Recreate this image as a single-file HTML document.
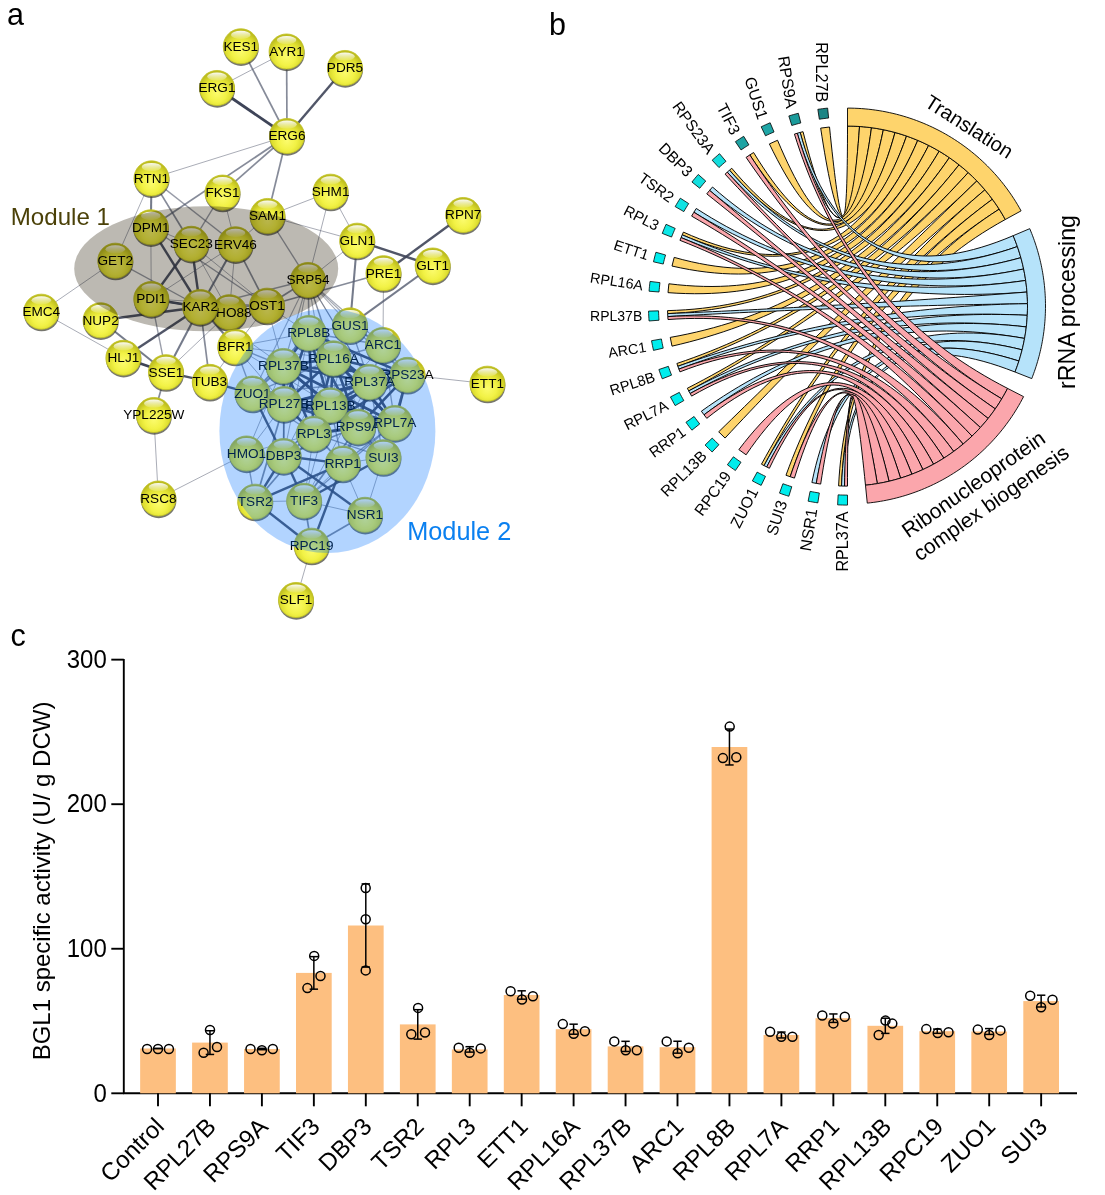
<!DOCTYPE html>
<html><head><meta charset="utf-8"><style>
html,body{margin:0;padding:0;background:#fff;}
body{width:1105px;height:1195px;overflow:hidden;}
svg{display:block;}
.f{font-family:"Liberation Sans",Arial,sans-serif;}
</style></head><body>
<svg width="1105" height="1195" viewBox="0 0 1105 1195" font-family="Liberation Sans, Arial, sans-serif">
<rect width="1105" height="1195" fill="#fff"/>
<text x="7" y="25.2" font-size="30.5" class="f">a</text>
<text x="549" y="34.8" font-size="30.5" class="f">b</text>
<text x="10.5" y="645.9" font-size="30.5" class="f">c</text>
<g id="pa">
<defs><radialGradient id="ball" cx="50%" cy="64%" r="58%"><stop offset="0" stop-color="#fbfb6c"/><stop offset="0.45" stop-color="#f2f246"/><stop offset="0.75" stop-color="#dcdc2e"/><stop offset="1" stop-color="#bcbc1e"/></radialGradient><linearGradient id="hl" x1="0" y1="0" x2="0" y2="1"><stop offset="0" stop-color="#fff" stop-opacity="0.95"/><stop offset="1" stop-color="#fff" stop-opacity="0.12"/></linearGradient></defs>
<line x1="240.8" y1="46.3" x2="287" y2="136" stroke="#535a6e" stroke-opacity="0.70" stroke-width="1.70"/>
<line x1="286.6" y1="51.5" x2="287" y2="136" stroke="#535a6e" stroke-opacity="0.70" stroke-width="1.70"/>
<line x1="345" y1="68" x2="287" y2="136" stroke="#3e4458" stroke-opacity="0.90" stroke-width="2.40"/>
<line x1="217" y1="88" x2="287" y2="136" stroke="#3e4458" stroke-opacity="1.00" stroke-width="2.75"/>
<line x1="217" y1="88" x2="286.6" y2="51.5" stroke="#535a6e" stroke-opacity="0.50" stroke-width="1.00"/>
<line x1="287" y1="136" x2="151.5" y2="178.4" stroke="#535a6e" stroke-opacity="0.50" stroke-width="1.00"/>
<line x1="287" y1="136" x2="222.5" y2="192.6" stroke="#535a6e" stroke-opacity="0.70" stroke-width="1.70"/>
<line x1="287" y1="136" x2="150.8" y2="227.3" stroke="#535a6e" stroke-opacity="0.70" stroke-width="1.70"/>
<line x1="287" y1="136" x2="267.5" y2="216" stroke="#535a6e" stroke-opacity="0.70" stroke-width="1.70"/>
<line x1="151.5" y1="178.4" x2="150.8" y2="227.3" stroke="#535a6e" stroke-opacity="0.80" stroke-width="2.05"/>
<line x1="151.5" y1="178.4" x2="191.3" y2="243.8" stroke="#535a6e" stroke-opacity="0.70" stroke-width="1.70"/>
<line x1="151.5" y1="178.4" x2="115.3" y2="260.7" stroke="#535a6e" stroke-opacity="0.50" stroke-width="1.00"/>
<line x1="151.5" y1="178.4" x2="235.5" y2="244.3" stroke="#535a6e" stroke-opacity="0.60" stroke-width="1.35"/>
<line x1="222.5" y1="192.6" x2="191.3" y2="243.8" stroke="#535a6e" stroke-opacity="0.60" stroke-width="1.35"/>
<line x1="222.5" y1="192.6" x2="235.5" y2="244.3" stroke="#535a6e" stroke-opacity="0.50" stroke-width="1.00"/>
<line x1="150.8" y1="227.3" x2="151.3" y2="299" stroke="#535a6e" stroke-opacity="0.50" stroke-width="1.00"/>
<line x1="150.8" y1="227.3" x2="200.2" y2="307" stroke="#3e4458" stroke-opacity="0.90" stroke-width="2.40"/>
<line x1="150.8" y1="227.3" x2="267" y2="305.7" stroke="#535a6e" stroke-opacity="0.60" stroke-width="1.35"/>
<line x1="150.8" y1="227.3" x2="191.3" y2="243.8" stroke="#535a6e" stroke-opacity="0.50" stroke-width="1.00"/>
<line x1="191.3" y1="243.8" x2="200.2" y2="307" stroke="#3e4458" stroke-opacity="0.90" stroke-width="2.40"/>
<line x1="191.3" y1="243.8" x2="151.3" y2="299" stroke="#3e4458" stroke-opacity="0.90" stroke-width="2.40"/>
<line x1="191.3" y1="243.8" x2="229.3" y2="312.2" stroke="#535a6e" stroke-opacity="0.50" stroke-width="1.00"/>
<line x1="191.3" y1="243.8" x2="267" y2="305.7" stroke="#535a6e" stroke-opacity="0.50" stroke-width="1.00"/>
<line x1="235.5" y1="244.3" x2="200.2" y2="307" stroke="#535a6e" stroke-opacity="0.80" stroke-width="2.05"/>
<line x1="235.5" y1="244.3" x2="267" y2="305.7" stroke="#535a6e" stroke-opacity="0.70" stroke-width="1.70"/>
<line x1="235.5" y1="244.3" x2="229.3" y2="312.2" stroke="#535a6e" stroke-opacity="0.50" stroke-width="1.00"/>
<line x1="235.5" y1="244.3" x2="151.3" y2="299" stroke="#535a6e" stroke-opacity="0.50" stroke-width="1.00"/>
<line x1="115.3" y1="260.7" x2="200.2" y2="307" stroke="#535a6e" stroke-opacity="0.60" stroke-width="1.35"/>
<line x1="115.3" y1="260.7" x2="41.3" y2="311.7" stroke="#535a6e" stroke-opacity="0.50" stroke-width="1.00"/>
<line x1="151.3" y1="299" x2="200.2" y2="307" stroke="#3e4458" stroke-opacity="1.00" stroke-width="2.75"/>
<line x1="151.3" y1="299" x2="166" y2="372.2" stroke="#535a6e" stroke-opacity="0.60" stroke-width="1.35"/>
<line x1="151.3" y1="299" x2="229.3" y2="312.2" stroke="#535a6e" stroke-opacity="0.70" stroke-width="1.70"/>
<line x1="151.3" y1="299" x2="267" y2="305.7" stroke="#535a6e" stroke-opacity="0.50" stroke-width="1.00"/>
<line x1="200.2" y1="307" x2="229.3" y2="312.2" stroke="#535a6e" stroke-opacity="0.80" stroke-width="2.05"/>
<line x1="200.2" y1="307" x2="267" y2="305.7" stroke="#535a6e" stroke-opacity="0.70" stroke-width="1.70"/>
<line x1="200.2" y1="307" x2="308" y2="280" stroke="#535a6e" stroke-opacity="0.60" stroke-width="1.35"/>
<line x1="200.2" y1="307" x2="123.4" y2="357.8" stroke="#3e4458" stroke-opacity="0.90" stroke-width="2.40"/>
<line x1="200.2" y1="307" x2="166" y2="372.2" stroke="#535a6e" stroke-opacity="0.80" stroke-width="2.05"/>
<line x1="200.2" y1="307" x2="209.8" y2="381.9" stroke="#535a6e" stroke-opacity="0.70" stroke-width="1.70"/>
<line x1="200.2" y1="307" x2="235.2" y2="346.7" stroke="#535a6e" stroke-opacity="0.80" stroke-width="2.05"/>
<line x1="100.6" y1="320.3" x2="200.2" y2="307" stroke="#3e4458" stroke-opacity="0.90" stroke-width="2.40"/>
<line x1="267.5" y1="216" x2="330.6" y2="191.7" stroke="#535a6e" stroke-opacity="0.50" stroke-width="1.00"/>
<line x1="267.5" y1="216" x2="308" y2="280" stroke="#535a6e" stroke-opacity="0.60" stroke-width="1.35"/>
<line x1="267.5" y1="216" x2="357.2" y2="240.7" stroke="#535a6e" stroke-opacity="0.50" stroke-width="1.00"/>
<line x1="267.5" y1="216" x2="235.5" y2="244.3" stroke="#535a6e" stroke-opacity="0.50" stroke-width="1.00"/>
<line x1="330.6" y1="191.7" x2="357.2" y2="240.7" stroke="#535a6e" stroke-opacity="0.50" stroke-width="1.00"/>
<line x1="330.6" y1="191.7" x2="308" y2="280" stroke="#535a6e" stroke-opacity="0.50" stroke-width="1.00"/>
<line x1="357.2" y1="240.7" x2="432.7" y2="265.5" stroke="#3e4458" stroke-opacity="0.90" stroke-width="2.40"/>
<line x1="357.2" y1="240.7" x2="308" y2="280" stroke="#535a6e" stroke-opacity="0.50" stroke-width="1.00"/>
<line x1="357.2" y1="240.7" x2="350" y2="325.4" stroke="#535a6e" stroke-opacity="0.80" stroke-width="2.05"/>
<line x1="463.2" y1="215" x2="383.5" y2="273.2" stroke="#3e4458" stroke-opacity="0.90" stroke-width="2.40"/>
<line x1="432.7" y1="265.5" x2="350" y2="325.4" stroke="#535a6e" stroke-opacity="0.80" stroke-width="2.05"/>
<line x1="383.5" y1="273.2" x2="383" y2="345" stroke="#535a6e" stroke-opacity="0.50" stroke-width="1.00"/>
<line x1="308" y1="280" x2="267" y2="305.7" stroke="#535a6e" stroke-opacity="0.70" stroke-width="1.70"/>
<line x1="267" y1="305.7" x2="229.3" y2="312.2" stroke="#535a6e" stroke-opacity="0.70" stroke-width="1.70"/>
<line x1="41.3" y1="311.7" x2="123.4" y2="357.8" stroke="#535a6e" stroke-opacity="0.50" stroke-width="1.00"/>
<line x1="100.6" y1="320.3" x2="166" y2="372.2" stroke="#535a6e" stroke-opacity="0.80" stroke-width="2.05"/>
<line x1="166" y1="372.2" x2="229.3" y2="312.2" stroke="#535a6e" stroke-opacity="0.50" stroke-width="1.00"/>
<line x1="235.2" y1="346.7" x2="209.8" y2="381.9" stroke="#535a6e" stroke-opacity="0.50" stroke-width="1.00"/>
<line x1="123.4" y1="357.8" x2="166" y2="372.2" stroke="#3e4458" stroke-opacity="1.00" stroke-width="2.75"/>
<line x1="166" y1="372.2" x2="209.8" y2="381.9" stroke="#3e4458" stroke-opacity="0.90" stroke-width="2.40"/>
<line x1="166" y1="372.2" x2="153.8" y2="415" stroke="#535a6e" stroke-opacity="0.70" stroke-width="1.70"/>
<line x1="209.8" y1="381.9" x2="252.5" y2="393.6" stroke="#3e4458" stroke-opacity="0.90" stroke-width="2.40"/>
<line x1="235.2" y1="346.7" x2="267" y2="305.7" stroke="#535a6e" stroke-opacity="0.50" stroke-width="1.00"/>
<line x1="153.8" y1="415" x2="158.4" y2="498.5" stroke="#535a6e" stroke-opacity="0.50" stroke-width="1.00"/>
<line x1="158.4" y1="498.5" x2="246.5" y2="453.5" stroke="#535a6e" stroke-opacity="0.50" stroke-width="1.00"/>
<line x1="311.6" y1="545.7" x2="296" y2="600" stroke="#535a6e" stroke-opacity="0.50" stroke-width="1.00"/>
<line x1="407.5" y1="374.9" x2="487.4" y2="383.7" stroke="#535a6e" stroke-opacity="0.50" stroke-width="1.00"/>
<line x1="308" y1="280" x2="308.7" y2="333" stroke="#535a6e" stroke-opacity="0.52" stroke-width="1.07"/>
<line x1="308" y1="280" x2="333.5" y2="358.4" stroke="#535a6e" stroke-opacity="0.52" stroke-width="1.07"/>
<line x1="308" y1="280" x2="283.4" y2="366" stroke="#535a6e" stroke-opacity="0.52" stroke-width="1.07"/>
<line x1="308" y1="280" x2="369.5" y2="382" stroke="#535a6e" stroke-opacity="0.52" stroke-width="1.07"/>
<line x1="308" y1="280" x2="350" y2="325.4" stroke="#535a6e" stroke-opacity="0.52" stroke-width="1.07"/>
<line x1="308" y1="280" x2="383" y2="345" stroke="#535a6e" stroke-opacity="0.52" stroke-width="1.07"/>
<line x1="308" y1="280" x2="407.5" y2="374.9" stroke="#535a6e" stroke-opacity="0.52" stroke-width="1.07"/>
<line x1="308" y1="280" x2="284.1" y2="404" stroke="#535a6e" stroke-opacity="0.52" stroke-width="1.07"/>
<line x1="308" y1="280" x2="330.2" y2="405.3" stroke="#535a6e" stroke-opacity="0.52" stroke-width="1.07"/>
<line x1="308" y1="280" x2="252.5" y2="393.6" stroke="#535a6e" stroke-opacity="0.52" stroke-width="1.07"/>
<line x1="308" y1="280" x2="313.8" y2="433.7" stroke="#535a6e" stroke-opacity="0.52" stroke-width="1.07"/>
<line x1="308" y1="280" x2="358.1" y2="426.8" stroke="#535a6e" stroke-opacity="0.52" stroke-width="1.07"/>
<line x1="308" y1="280" x2="394.9" y2="423" stroke="#535a6e" stroke-opacity="0.52" stroke-width="1.07"/>
<line x1="235.2" y1="346.7" x2="283.4" y2="366" stroke="#535a6e" stroke-opacity="0.60" stroke-width="1.35"/>
<line x1="235.2" y1="346.7" x2="252.5" y2="393.6" stroke="#535a6e" stroke-opacity="0.60" stroke-width="1.35"/>
<line x1="235.2" y1="346.7" x2="308.7" y2="333" stroke="#535a6e" stroke-opacity="0.50" stroke-width="1.00"/>
<line x1="235.2" y1="346.7" x2="284.1" y2="404" stroke="#535a6e" stroke-opacity="0.50" stroke-width="1.00"/>
<line x1="267" y1="305.7" x2="308.7" y2="333" stroke="#535a6e" stroke-opacity="0.50" stroke-width="1.00"/>
<line x1="267" y1="305.7" x2="283.4" y2="366" stroke="#535a6e" stroke-opacity="0.50" stroke-width="1.00"/>
<line x1="200.2" y1="307" x2="283.4" y2="366" stroke="#535a6e" stroke-opacity="0.50" stroke-width="1.00"/>
<line x1="308.7" y1="333" x2="333.5" y2="358.4" stroke="#3e4458" stroke-opacity="0.96" stroke-width="2.61"/>
<line x1="308.7" y1="333" x2="283.4" y2="366" stroke="#3e4458" stroke-opacity="0.96" stroke-width="2.61"/>
<line x1="308.7" y1="333" x2="369.5" y2="382" stroke="#3e4458" stroke-opacity="0.96" stroke-width="2.61"/>
<line x1="308.7" y1="333" x2="284.1" y2="404" stroke="#3e4458" stroke-opacity="0.96" stroke-width="2.61"/>
<line x1="308.7" y1="333" x2="330.2" y2="405.3" stroke="#3e4458" stroke-opacity="0.96" stroke-width="2.61"/>
<line x1="308.7" y1="333" x2="358.1" y2="426.8" stroke="#3e4458" stroke-opacity="0.96" stroke-width="2.61"/>
<line x1="308.7" y1="333" x2="313.8" y2="433.7" stroke="#3e4458" stroke-opacity="0.96" stroke-width="2.61"/>
<line x1="308.7" y1="333" x2="394.9" y2="423" stroke="#3e4458" stroke-opacity="0.96" stroke-width="2.61"/>
<line x1="308.7" y1="333" x2="407.5" y2="374.9" stroke="#3e4458" stroke-opacity="0.96" stroke-width="2.61"/>
<line x1="333.5" y1="358.4" x2="283.4" y2="366" stroke="#3e4458" stroke-opacity="0.96" stroke-width="2.61"/>
<line x1="333.5" y1="358.4" x2="369.5" y2="382" stroke="#3e4458" stroke-opacity="0.96" stroke-width="2.61"/>
<line x1="333.5" y1="358.4" x2="284.1" y2="404" stroke="#3e4458" stroke-opacity="0.96" stroke-width="2.61"/>
<line x1="333.5" y1="358.4" x2="330.2" y2="405.3" stroke="#3e4458" stroke-opacity="0.96" stroke-width="2.61"/>
<line x1="333.5" y1="358.4" x2="358.1" y2="426.8" stroke="#3e4458" stroke-opacity="0.96" stroke-width="2.61"/>
<line x1="333.5" y1="358.4" x2="313.8" y2="433.7" stroke="#3e4458" stroke-opacity="0.96" stroke-width="2.61"/>
<line x1="333.5" y1="358.4" x2="394.9" y2="423" stroke="#3e4458" stroke-opacity="0.96" stroke-width="2.61"/>
<line x1="333.5" y1="358.4" x2="407.5" y2="374.9" stroke="#3e4458" stroke-opacity="0.96" stroke-width="2.61"/>
<line x1="283.4" y1="366" x2="369.5" y2="382" stroke="#3e4458" stroke-opacity="0.96" stroke-width="2.61"/>
<line x1="283.4" y1="366" x2="284.1" y2="404" stroke="#3e4458" stroke-opacity="0.96" stroke-width="2.61"/>
<line x1="283.4" y1="366" x2="330.2" y2="405.3" stroke="#3e4458" stroke-opacity="0.96" stroke-width="2.61"/>
<line x1="283.4" y1="366" x2="358.1" y2="426.8" stroke="#3e4458" stroke-opacity="0.96" stroke-width="2.61"/>
<line x1="283.4" y1="366" x2="313.8" y2="433.7" stroke="#3e4458" stroke-opacity="0.96" stroke-width="2.61"/>
<line x1="283.4" y1="366" x2="394.9" y2="423" stroke="#3e4458" stroke-opacity="0.96" stroke-width="2.61"/>
<line x1="283.4" y1="366" x2="407.5" y2="374.9" stroke="#3e4458" stroke-opacity="0.96" stroke-width="2.61"/>
<line x1="369.5" y1="382" x2="284.1" y2="404" stroke="#3e4458" stroke-opacity="0.96" stroke-width="2.61"/>
<line x1="369.5" y1="382" x2="330.2" y2="405.3" stroke="#3e4458" stroke-opacity="0.96" stroke-width="2.61"/>
<line x1="369.5" y1="382" x2="358.1" y2="426.8" stroke="#3e4458" stroke-opacity="0.96" stroke-width="2.61"/>
<line x1="369.5" y1="382" x2="313.8" y2="433.7" stroke="#3e4458" stroke-opacity="0.96" stroke-width="2.61"/>
<line x1="369.5" y1="382" x2="394.9" y2="423" stroke="#3e4458" stroke-opacity="0.96" stroke-width="2.61"/>
<line x1="369.5" y1="382" x2="407.5" y2="374.9" stroke="#3e4458" stroke-opacity="0.96" stroke-width="2.61"/>
<line x1="284.1" y1="404" x2="330.2" y2="405.3" stroke="#3e4458" stroke-opacity="0.96" stroke-width="2.61"/>
<line x1="284.1" y1="404" x2="358.1" y2="426.8" stroke="#3e4458" stroke-opacity="0.96" stroke-width="2.61"/>
<line x1="284.1" y1="404" x2="313.8" y2="433.7" stroke="#3e4458" stroke-opacity="0.96" stroke-width="2.61"/>
<line x1="284.1" y1="404" x2="394.9" y2="423" stroke="#3e4458" stroke-opacity="0.96" stroke-width="2.61"/>
<line x1="284.1" y1="404" x2="407.5" y2="374.9" stroke="#3e4458" stroke-opacity="0.96" stroke-width="2.61"/>
<line x1="330.2" y1="405.3" x2="358.1" y2="426.8" stroke="#3e4458" stroke-opacity="0.96" stroke-width="2.61"/>
<line x1="330.2" y1="405.3" x2="313.8" y2="433.7" stroke="#3e4458" stroke-opacity="0.96" stroke-width="2.61"/>
<line x1="330.2" y1="405.3" x2="394.9" y2="423" stroke="#3e4458" stroke-opacity="0.96" stroke-width="2.61"/>
<line x1="330.2" y1="405.3" x2="407.5" y2="374.9" stroke="#3e4458" stroke-opacity="0.96" stroke-width="2.61"/>
<line x1="358.1" y1="426.8" x2="313.8" y2="433.7" stroke="#3e4458" stroke-opacity="0.96" stroke-width="2.61"/>
<line x1="358.1" y1="426.8" x2="394.9" y2="423" stroke="#3e4458" stroke-opacity="0.96" stroke-width="2.61"/>
<line x1="358.1" y1="426.8" x2="407.5" y2="374.9" stroke="#3e4458" stroke-opacity="0.96" stroke-width="2.61"/>
<line x1="313.8" y1="433.7" x2="394.9" y2="423" stroke="#3e4458" stroke-opacity="0.96" stroke-width="2.61"/>
<line x1="313.8" y1="433.7" x2="407.5" y2="374.9" stroke="#3e4458" stroke-opacity="0.96" stroke-width="2.61"/>
<line x1="394.9" y1="423" x2="407.5" y2="374.9" stroke="#3e4458" stroke-opacity="0.96" stroke-width="2.61"/>
<line x1="255.2" y1="501.7" x2="283.6" y2="456" stroke="#3e4458" stroke-opacity="0.90" stroke-width="2.40"/>
<line x1="255.2" y1="501.7" x2="284.1" y2="404" stroke="#535a6e" stroke-opacity="0.70" stroke-width="1.70"/>
<line x1="255.2" y1="501.7" x2="313.8" y2="433.7" stroke="#535a6e" stroke-opacity="0.70" stroke-width="1.70"/>
<line x1="255.2" y1="501.7" x2="342.8" y2="463.6" stroke="#3e4458" stroke-opacity="0.90" stroke-width="2.40"/>
<line x1="255.2" y1="501.7" x2="304.1" y2="500.8" stroke="#535a6e" stroke-opacity="0.50" stroke-width="1.00"/>
<line x1="255.2" y1="501.7" x2="311.6" y2="545.7" stroke="#3e4458" stroke-opacity="0.90" stroke-width="2.40"/>
<line x1="255.2" y1="501.7" x2="246.5" y2="453.5" stroke="#535a6e" stroke-opacity="0.60" stroke-width="1.35"/>
<line x1="304.1" y1="500.8" x2="283.6" y2="456" stroke="#3e4458" stroke-opacity="0.90" stroke-width="2.40"/>
<line x1="304.1" y1="500.8" x2="313.8" y2="433.7" stroke="#535a6e" stroke-opacity="0.50" stroke-width="1.00"/>
<line x1="304.1" y1="500.8" x2="311.6" y2="545.7" stroke="#535a6e" stroke-opacity="0.70" stroke-width="1.70"/>
<line x1="304.1" y1="500.8" x2="365" y2="514.8" stroke="#535a6e" stroke-opacity="0.50" stroke-width="1.00"/>
<line x1="304.1" y1="500.8" x2="383.4" y2="457.2" stroke="#3e4458" stroke-opacity="0.90" stroke-width="2.40"/>
<line x1="304.1" y1="500.8" x2="342.8" y2="463.6" stroke="#535a6e" stroke-opacity="0.50" stroke-width="1.00"/>
<line x1="304.1" y1="500.8" x2="358.1" y2="426.8" stroke="#535a6e" stroke-opacity="0.70" stroke-width="1.70"/>
<line x1="304.1" y1="500.8" x2="330.2" y2="405.3" stroke="#535a6e" stroke-opacity="0.50" stroke-width="1.00"/>
<line x1="283.6" y1="456" x2="365" y2="514.8" stroke="#3e4458" stroke-opacity="0.90" stroke-width="2.40"/>
<line x1="283.6" y1="456" x2="342.8" y2="463.6" stroke="#3e4458" stroke-opacity="0.90" stroke-width="2.40"/>
<line x1="283.6" y1="456" x2="313.8" y2="433.7" stroke="#535a6e" stroke-opacity="0.70" stroke-width="1.70"/>
<line x1="283.6" y1="456" x2="284.1" y2="404" stroke="#535a6e" stroke-opacity="0.70" stroke-width="1.70"/>
<line x1="283.6" y1="456" x2="330.2" y2="405.3" stroke="#535a6e" stroke-opacity="0.70" stroke-width="1.70"/>
<line x1="283.6" y1="456" x2="358.1" y2="426.8" stroke="#535a6e" stroke-opacity="0.70" stroke-width="1.70"/>
<line x1="283.6" y1="456" x2="252.5" y2="393.6" stroke="#3e4458" stroke-opacity="0.90" stroke-width="2.40"/>
<line x1="283.6" y1="456" x2="283.4" y2="366" stroke="#535a6e" stroke-opacity="0.60" stroke-width="1.35"/>
<line x1="283.6" y1="456" x2="308.7" y2="333" stroke="#535a6e" stroke-opacity="0.50" stroke-width="1.00"/>
<line x1="283.6" y1="456" x2="333.5" y2="358.4" stroke="#535a6e" stroke-opacity="0.50" stroke-width="1.00"/>
<line x1="365" y1="514.8" x2="342.8" y2="463.6" stroke="#535a6e" stroke-opacity="0.50" stroke-width="1.00"/>
<line x1="365" y1="514.8" x2="383.4" y2="457.2" stroke="#535a6e" stroke-opacity="0.50" stroke-width="1.00"/>
<line x1="365" y1="514.8" x2="311.6" y2="545.7" stroke="#535a6e" stroke-opacity="0.70" stroke-width="1.70"/>
<line x1="342.8" y1="463.6" x2="311.6" y2="545.7" stroke="#3e4458" stroke-opacity="0.90" stroke-width="2.40"/>
<line x1="342.8" y1="463.6" x2="313.8" y2="433.7" stroke="#535a6e" stroke-opacity="0.70" stroke-width="1.70"/>
<line x1="342.8" y1="463.6" x2="358.1" y2="426.8" stroke="#535a6e" stroke-opacity="0.70" stroke-width="1.70"/>
<line x1="342.8" y1="463.6" x2="330.2" y2="405.3" stroke="#535a6e" stroke-opacity="0.60" stroke-width="1.35"/>
<line x1="342.8" y1="463.6" x2="394.9" y2="423" stroke="#535a6e" stroke-opacity="0.60" stroke-width="1.35"/>
<line x1="342.8" y1="463.6" x2="369.5" y2="382" stroke="#535a6e" stroke-opacity="0.60" stroke-width="1.35"/>
<line x1="342.8" y1="463.6" x2="383.4" y2="457.2" stroke="#535a6e" stroke-opacity="0.50" stroke-width="1.00"/>
<line x1="383.4" y1="457.2" x2="358.1" y2="426.8" stroke="#535a6e" stroke-opacity="0.70" stroke-width="1.70"/>
<line x1="383.4" y1="457.2" x2="394.9" y2="423" stroke="#535a6e" stroke-opacity="0.70" stroke-width="1.70"/>
<line x1="383.4" y1="457.2" x2="313.8" y2="433.7" stroke="#535a6e" stroke-opacity="0.60" stroke-width="1.35"/>
<line x1="383.4" y1="457.2" x2="330.2" y2="405.3" stroke="#535a6e" stroke-opacity="0.60" stroke-width="1.35"/>
<line x1="383.4" y1="457.2" x2="407.5" y2="374.9" stroke="#535a6e" stroke-opacity="0.70" stroke-width="1.70"/>
<line x1="246.5" y1="453.5" x2="284.1" y2="404" stroke="#535a6e" stroke-opacity="0.50" stroke-width="1.00"/>
<line x1="246.5" y1="453.5" x2="313.8" y2="433.7" stroke="#535a6e" stroke-opacity="0.50" stroke-width="1.00"/>
<line x1="246.5" y1="453.5" x2="283.4" y2="366" stroke="#535a6e" stroke-opacity="0.50" stroke-width="1.00"/>
<line x1="252.5" y1="393.6" x2="283.4" y2="366" stroke="#535a6e" stroke-opacity="0.70" stroke-width="1.70"/>
<line x1="252.5" y1="393.6" x2="284.1" y2="404" stroke="#535a6e" stroke-opacity="0.70" stroke-width="1.70"/>
<line x1="252.5" y1="393.6" x2="308.7" y2="333" stroke="#535a6e" stroke-opacity="0.70" stroke-width="1.70"/>
<line x1="252.5" y1="393.6" x2="333.5" y2="358.4" stroke="#535a6e" stroke-opacity="0.60" stroke-width="1.35"/>
<line x1="252.5" y1="393.6" x2="330.2" y2="405.3" stroke="#535a6e" stroke-opacity="0.60" stroke-width="1.35"/>
<line x1="252.5" y1="393.6" x2="313.8" y2="433.7" stroke="#535a6e" stroke-opacity="0.60" stroke-width="1.35"/>
<line x1="383" y1="345" x2="350" y2="325.4" stroke="#535a6e" stroke-opacity="0.70" stroke-width="1.70"/>
<line x1="383" y1="345" x2="333.5" y2="358.4" stroke="#535a6e" stroke-opacity="0.60" stroke-width="1.35"/>
<line x1="383" y1="345" x2="369.5" y2="382" stroke="#535a6e" stroke-opacity="0.60" stroke-width="1.35"/>
<line x1="383" y1="345" x2="407.5" y2="374.9" stroke="#535a6e" stroke-opacity="0.60" stroke-width="1.35"/>
<line x1="383" y1="345" x2="308.7" y2="333" stroke="#535a6e" stroke-opacity="0.60" stroke-width="1.35"/>
<line x1="383" y1="345" x2="394.9" y2="423" stroke="#535a6e" stroke-opacity="0.60" stroke-width="1.35"/>
<line x1="350" y1="325.4" x2="308.7" y2="333" stroke="#535a6e" stroke-opacity="0.60" stroke-width="1.35"/>
<line x1="350" y1="325.4" x2="333.5" y2="358.4" stroke="#535a6e" stroke-opacity="0.60" stroke-width="1.35"/>
<line x1="350" y1="325.4" x2="369.5" y2="382" stroke="#535a6e" stroke-opacity="0.60" stroke-width="1.35"/>
<line x1="350" y1="325.4" x2="407.5" y2="374.9" stroke="#535a6e" stroke-opacity="0.60" stroke-width="1.35"/>
<line x1="267" y1="305.7" x2="383.5" y2="273.2" stroke="#535a6e" stroke-opacity="0.70" stroke-width="1.70"/>
<line x1="252.5" y1="393.6" x2="369.5" y2="382" stroke="#535a6e" stroke-opacity="0.60" stroke-width="1.35"/>
<line x1="252.5" y1="393.6" x2="358.1" y2="426.8" stroke="#535a6e" stroke-opacity="0.60" stroke-width="1.35"/>
<line x1="252.5" y1="393.6" x2="394.9" y2="423" stroke="#535a6e" stroke-opacity="0.50" stroke-width="1.00"/>
<line x1="383.4" y1="457.2" x2="369.5" y2="382" stroke="#535a6e" stroke-opacity="0.60" stroke-width="1.35"/>
<line x1="383.4" y1="457.2" x2="333.5" y2="358.4" stroke="#535a6e" stroke-opacity="0.50" stroke-width="1.00"/>
<line x1="304.1" y1="500.8" x2="369.5" y2="382" stroke="#535a6e" stroke-opacity="0.50" stroke-width="1.00"/>
<line x1="304.1" y1="500.8" x2="394.9" y2="423" stroke="#535a6e" stroke-opacity="0.60" stroke-width="1.35"/>
<line x1="350" y1="325.4" x2="330.2" y2="405.3" stroke="#535a6e" stroke-opacity="0.50" stroke-width="1.00"/>
<line x1="383" y1="345" x2="330.2" y2="405.3" stroke="#535a6e" stroke-opacity="0.50" stroke-width="1.00"/>
<line x1="308.7" y1="333" x2="358.1" y2="426.8" stroke="#535a6e" stroke-opacity="0.70" stroke-width="1.70"/>
<line x1="235.2" y1="346.7" x2="333.5" y2="358.4" stroke="#535a6e" stroke-opacity="0.50" stroke-width="1.00"/>
<line x1="235.2" y1="346.7" x2="330.2" y2="405.3" stroke="#535a6e" stroke-opacity="0.50" stroke-width="1.00"/>
<circle cx="241.10000000000002" cy="48.199999999999996" r="17.75" fill="#3c3c30" opacity="0.7"/>
<circle cx="240.8" cy="46.3" r="17.55" fill="url(#ball)" stroke="#c2c224" stroke-width="0.8"/>
<ellipse cx="240.8" cy="34.9" rx="9.8" ry="4.1" fill="url(#hl)"/>
<text x="240.8" y="50.599999999999994" font-size="13.6" text-anchor="middle" class="f">KES1</text>
<circle cx="286.90000000000003" cy="53.4" r="17.75" fill="#3c3c30" opacity="0.7"/>
<circle cx="286.6" cy="51.5" r="17.55" fill="url(#ball)" stroke="#c2c224" stroke-width="0.8"/>
<ellipse cx="286.6" cy="40.1" rx="9.8" ry="4.1" fill="url(#hl)"/>
<text x="286.6" y="55.8" font-size="13.6" text-anchor="middle" class="f">AYR1</text>
<circle cx="345.3" cy="69.9" r="17.75" fill="#3c3c30" opacity="0.7"/>
<circle cx="345" cy="68" r="17.55" fill="url(#ball)" stroke="#c2c224" stroke-width="0.8"/>
<ellipse cx="345" cy="56.6" rx="9.8" ry="4.1" fill="url(#hl)"/>
<text x="345" y="72.3" font-size="13.6" text-anchor="middle" class="f">PDR5</text>
<circle cx="217.3" cy="89.9" r="17.75" fill="#3c3c30" opacity="0.7"/>
<circle cx="217" cy="88" r="17.55" fill="url(#ball)" stroke="#c2c224" stroke-width="0.8"/>
<ellipse cx="217" cy="76.6" rx="9.8" ry="4.1" fill="url(#hl)"/>
<text x="217" y="92.3" font-size="13.6" text-anchor="middle" class="f">ERG1</text>
<circle cx="287.3" cy="137.9" r="17.75" fill="#3c3c30" opacity="0.7"/>
<circle cx="287" cy="136" r="17.55" fill="url(#ball)" stroke="#c2c224" stroke-width="0.8"/>
<ellipse cx="287" cy="124.6" rx="9.8" ry="4.1" fill="url(#hl)"/>
<text x="287" y="140.3" font-size="13.6" text-anchor="middle" class="f">ERG6</text>
<circle cx="151.8" cy="180.3" r="17.75" fill="#3c3c30" opacity="0.7"/>
<circle cx="151.5" cy="178.4" r="17.55" fill="url(#ball)" stroke="#c2c224" stroke-width="0.8"/>
<ellipse cx="151.5" cy="167.0" rx="9.8" ry="4.1" fill="url(#hl)"/>
<text x="151.5" y="182.70000000000002" font-size="13.6" text-anchor="middle" class="f">RTN1</text>
<circle cx="222.8" cy="194.5" r="17.75" fill="#3c3c30" opacity="0.7"/>
<circle cx="222.5" cy="192.6" r="17.55" fill="url(#ball)" stroke="#c2c224" stroke-width="0.8"/>
<ellipse cx="222.5" cy="181.2" rx="9.8" ry="4.1" fill="url(#hl)"/>
<text x="222.5" y="196.9" font-size="13.6" text-anchor="middle" class="f">FKS1</text>
<circle cx="330.90000000000003" cy="193.6" r="17.75" fill="#3c3c30" opacity="0.7"/>
<circle cx="330.6" cy="191.7" r="17.55" fill="url(#ball)" stroke="#c2c224" stroke-width="0.8"/>
<ellipse cx="330.6" cy="180.29999999999998" rx="9.8" ry="4.1" fill="url(#hl)"/>
<text x="330.6" y="196.0" font-size="13.6" text-anchor="middle" class="f">SHM1</text>
<circle cx="267.8" cy="217.9" r="17.75" fill="#3c3c30" opacity="0.7"/>
<circle cx="267.5" cy="216" r="17.55" fill="url(#ball)" stroke="#c2c224" stroke-width="0.8"/>
<ellipse cx="267.5" cy="204.6" rx="9.8" ry="4.1" fill="url(#hl)"/>
<text x="267.5" y="220.3" font-size="13.6" text-anchor="middle" class="f">SAM1</text>
<circle cx="463.5" cy="216.9" r="17.75" fill="#3c3c30" opacity="0.7"/>
<circle cx="463.2" cy="215" r="17.55" fill="url(#ball)" stroke="#c2c224" stroke-width="0.8"/>
<ellipse cx="463.2" cy="203.6" rx="9.8" ry="4.1" fill="url(#hl)"/>
<text x="463.2" y="219.3" font-size="13.6" text-anchor="middle" class="f">RPN7</text>
<circle cx="115.6" cy="262.59999999999997" r="17.75" fill="#3c3c30" opacity="0.7"/>
<circle cx="115.3" cy="260.7" r="17.55" fill="url(#ball)" stroke="#c2c224" stroke-width="0.8"/>
<ellipse cx="115.3" cy="249.29999999999998" rx="9.8" ry="4.1" fill="url(#hl)"/>
<text x="115.3" y="265.0" font-size="13.6" text-anchor="middle" class="f">GET2</text>
<circle cx="151.10000000000002" cy="229.20000000000002" r="17.75" fill="#3c3c30" opacity="0.7"/>
<circle cx="150.8" cy="227.3" r="17.55" fill="url(#ball)" stroke="#c2c224" stroke-width="0.8"/>
<ellipse cx="150.8" cy="215.9" rx="9.8" ry="4.1" fill="url(#hl)"/>
<text x="150.8" y="231.60000000000002" font-size="13.6" text-anchor="middle" class="f">DPM1</text>
<circle cx="191.60000000000002" cy="245.70000000000002" r="17.75" fill="#3c3c30" opacity="0.7"/>
<circle cx="191.3" cy="243.8" r="17.55" fill="url(#ball)" stroke="#c2c224" stroke-width="0.8"/>
<ellipse cx="191.3" cy="232.4" rx="9.8" ry="4.1" fill="url(#hl)"/>
<text x="191.3" y="248.10000000000002" font-size="13.6" text-anchor="middle" class="f">SEC23</text>
<circle cx="235.8" cy="246.20000000000002" r="17.75" fill="#3c3c30" opacity="0.7"/>
<circle cx="235.5" cy="244.3" r="17.55" fill="url(#ball)" stroke="#c2c224" stroke-width="0.8"/>
<ellipse cx="235.5" cy="232.9" rx="9.8" ry="4.1" fill="url(#hl)"/>
<text x="235.5" y="248.60000000000002" font-size="13.6" text-anchor="middle" class="f">ERV46</text>
<circle cx="357.5" cy="242.6" r="17.75" fill="#3c3c30" opacity="0.7"/>
<circle cx="357.2" cy="240.7" r="17.55" fill="url(#ball)" stroke="#c2c224" stroke-width="0.8"/>
<ellipse cx="357.2" cy="229.29999999999998" rx="9.8" ry="4.1" fill="url(#hl)"/>
<text x="357.2" y="245.0" font-size="13.6" text-anchor="middle" class="f">GLN1</text>
<circle cx="433.0" cy="267.4" r="17.75" fill="#3c3c30" opacity="0.7"/>
<circle cx="432.7" cy="265.5" r="17.55" fill="url(#ball)" stroke="#c2c224" stroke-width="0.8"/>
<ellipse cx="432.7" cy="254.1" rx="9.8" ry="4.1" fill="url(#hl)"/>
<text x="432.7" y="269.8" font-size="13.6" text-anchor="middle" class="f">GLT1</text>
<circle cx="383.8" cy="275.09999999999997" r="17.75" fill="#3c3c30" opacity="0.7"/>
<circle cx="383.5" cy="273.2" r="17.55" fill="url(#ball)" stroke="#c2c224" stroke-width="0.8"/>
<ellipse cx="383.5" cy="261.8" rx="9.8" ry="4.1" fill="url(#hl)"/>
<text x="383.5" y="277.5" font-size="13.6" text-anchor="middle" class="f">PRE1</text>
<circle cx="308.3" cy="281.9" r="17.75" fill="#3c3c30" opacity="0.7"/>
<circle cx="308" cy="280" r="17.55" fill="url(#ball)" stroke="#c2c224" stroke-width="0.8"/>
<ellipse cx="308" cy="268.6" rx="9.8" ry="4.1" fill="url(#hl)"/>
<text x="308" y="284.3" font-size="13.6" text-anchor="middle" class="f">SRP54</text>
<circle cx="151.60000000000002" cy="300.9" r="17.75" fill="#3c3c30" opacity="0.7"/>
<circle cx="151.3" cy="299" r="17.55" fill="url(#ball)" stroke="#c2c224" stroke-width="0.8"/>
<ellipse cx="151.3" cy="287.6" rx="9.8" ry="4.1" fill="url(#hl)"/>
<text x="151.3" y="303.3" font-size="13.6" text-anchor="middle" class="f">PDI1</text>
<circle cx="229.60000000000002" cy="314.09999999999997" r="17.75" fill="#3c3c30" opacity="0.7"/>
<circle cx="229.3" cy="312.2" r="17.55" fill="url(#ball)" stroke="#c2c224" stroke-width="0.8"/>
<ellipse cx="229.3" cy="300.8" rx="9.8" ry="4.1" fill="url(#hl)"/>
<text x="229.3" y="316.5" font-size="13.6" text-anchor="middle" class="f">PHO88</text>
<circle cx="200.5" cy="308.9" r="17.75" fill="#3c3c30" opacity="0.7"/>
<circle cx="200.2" cy="307" r="17.55" fill="url(#ball)" stroke="#c2c224" stroke-width="0.8"/>
<ellipse cx="200.2" cy="295.6" rx="9.8" ry="4.1" fill="url(#hl)"/>
<text x="200.2" y="311.3" font-size="13.6" text-anchor="middle" class="f">KAR2</text>
<circle cx="267.3" cy="307.59999999999997" r="17.75" fill="#3c3c30" opacity="0.7"/>
<circle cx="267" cy="305.7" r="17.55" fill="url(#ball)" stroke="#c2c224" stroke-width="0.8"/>
<ellipse cx="267" cy="294.3" rx="9.8" ry="4.1" fill="url(#hl)"/>
<text x="267" y="310.0" font-size="13.6" text-anchor="middle" class="f">OST1</text>
<circle cx="41.599999999999994" cy="313.59999999999997" r="17.75" fill="#3c3c30" opacity="0.7"/>
<circle cx="41.3" cy="311.7" r="17.55" fill="url(#ball)" stroke="#c2c224" stroke-width="0.8"/>
<ellipse cx="41.3" cy="300.3" rx="9.8" ry="4.1" fill="url(#hl)"/>
<text x="41.3" y="316.0" font-size="13.6" text-anchor="middle" class="f">EMC4</text>
<circle cx="100.89999999999999" cy="322.2" r="17.75" fill="#3c3c30" opacity="0.7"/>
<circle cx="100.6" cy="320.3" r="17.55" fill="url(#ball)" stroke="#c2c224" stroke-width="0.8"/>
<ellipse cx="100.6" cy="308.90000000000003" rx="9.8" ry="4.1" fill="url(#hl)"/>
<text x="100.6" y="324.6" font-size="13.6" text-anchor="middle" class="f">NUP2</text>
<circle cx="350.3" cy="327.29999999999995" r="17.75" fill="#3c3c30" opacity="0.7"/>
<circle cx="350" cy="325.4" r="17.55" fill="url(#ball)" stroke="#c2c224" stroke-width="0.8"/>
<ellipse cx="350" cy="314.0" rx="9.8" ry="4.1" fill="url(#hl)"/>
<text x="350" y="329.7" font-size="13.6" text-anchor="middle" class="f">GUS1</text>
<circle cx="309.0" cy="334.9" r="17.75" fill="#3c3c30" opacity="0.7"/>
<circle cx="308.7" cy="333" r="17.55" fill="url(#ball)" stroke="#c2c224" stroke-width="0.8"/>
<ellipse cx="308.7" cy="321.6" rx="9.8" ry="4.1" fill="url(#hl)"/>
<text x="308.7" y="337.3" font-size="13.6" text-anchor="middle" class="f">RPL8B</text>
<circle cx="383.3" cy="346.9" r="17.75" fill="#3c3c30" opacity="0.7"/>
<circle cx="383" cy="345" r="17.55" fill="url(#ball)" stroke="#c2c224" stroke-width="0.8"/>
<ellipse cx="383" cy="333.6" rx="9.8" ry="4.1" fill="url(#hl)"/>
<text x="383" y="349.3" font-size="13.6" text-anchor="middle" class="f">ARC1</text>
<circle cx="235.5" cy="348.59999999999997" r="17.75" fill="#3c3c30" opacity="0.7"/>
<circle cx="235.2" cy="346.7" r="17.55" fill="url(#ball)" stroke="#c2c224" stroke-width="0.8"/>
<ellipse cx="235.2" cy="335.3" rx="9.8" ry="4.1" fill="url(#hl)"/>
<text x="235.2" y="351.0" font-size="13.6" text-anchor="middle" class="f">BFR1</text>
<circle cx="123.7" cy="359.7" r="17.75" fill="#3c3c30" opacity="0.7"/>
<circle cx="123.4" cy="357.8" r="17.55" fill="url(#ball)" stroke="#c2c224" stroke-width="0.8"/>
<ellipse cx="123.4" cy="346.40000000000003" rx="9.8" ry="4.1" fill="url(#hl)"/>
<text x="123.4" y="362.1" font-size="13.6" text-anchor="middle" class="f">HLJ1</text>
<circle cx="283.7" cy="367.9" r="17.75" fill="#3c3c30" opacity="0.7"/>
<circle cx="283.4" cy="366" r="17.55" fill="url(#ball)" stroke="#c2c224" stroke-width="0.8"/>
<ellipse cx="283.4" cy="354.6" rx="9.8" ry="4.1" fill="url(#hl)"/>
<text x="283.4" y="370.3" font-size="13.6" text-anchor="middle" class="f">RPL37B</text>
<circle cx="333.8" cy="360.29999999999995" r="17.75" fill="#3c3c30" opacity="0.7"/>
<circle cx="333.5" cy="358.4" r="17.55" fill="url(#ball)" stroke="#c2c224" stroke-width="0.8"/>
<ellipse cx="333.5" cy="347.0" rx="9.8" ry="4.1" fill="url(#hl)"/>
<text x="333.5" y="362.7" font-size="13.6" text-anchor="middle" class="f">RPL16A</text>
<circle cx="166.3" cy="374.09999999999997" r="17.75" fill="#3c3c30" opacity="0.7"/>
<circle cx="166" cy="372.2" r="17.55" fill="url(#ball)" stroke="#c2c224" stroke-width="0.8"/>
<ellipse cx="166" cy="360.8" rx="9.8" ry="4.1" fill="url(#hl)"/>
<text x="166" y="376.5" font-size="13.6" text-anchor="middle" class="f">SSE1</text>
<circle cx="407.8" cy="376.79999999999995" r="17.75" fill="#3c3c30" opacity="0.7"/>
<circle cx="407.5" cy="374.9" r="17.55" fill="url(#ball)" stroke="#c2c224" stroke-width="0.8"/>
<ellipse cx="407.5" cy="363.5" rx="9.8" ry="4.1" fill="url(#hl)"/>
<text x="407.5" y="379.2" font-size="13.6" text-anchor="middle" class="f">RPS23A</text>
<circle cx="210.10000000000002" cy="383.79999999999995" r="17.75" fill="#3c3c30" opacity="0.7"/>
<circle cx="209.8" cy="381.9" r="17.55" fill="url(#ball)" stroke="#c2c224" stroke-width="0.8"/>
<ellipse cx="209.8" cy="370.5" rx="9.8" ry="4.1" fill="url(#hl)"/>
<text x="209.8" y="386.2" font-size="13.6" text-anchor="middle" class="f">TUB3</text>
<circle cx="369.8" cy="383.9" r="17.75" fill="#3c3c30" opacity="0.7"/>
<circle cx="369.5" cy="382" r="17.55" fill="url(#ball)" stroke="#c2c224" stroke-width="0.8"/>
<ellipse cx="369.5" cy="370.6" rx="9.8" ry="4.1" fill="url(#hl)"/>
<text x="369.5" y="386.3" font-size="13.6" text-anchor="middle" class="f">RPL37A</text>
<circle cx="487.7" cy="385.59999999999997" r="17.75" fill="#3c3c30" opacity="0.7"/>
<circle cx="487.4" cy="383.7" r="17.55" fill="url(#ball)" stroke="#c2c224" stroke-width="0.8"/>
<ellipse cx="487.4" cy="372.3" rx="9.8" ry="4.1" fill="url(#hl)"/>
<text x="487.4" y="388.0" font-size="13.6" text-anchor="middle" class="f">ETT1</text>
<circle cx="252.8" cy="395.5" r="17.75" fill="#3c3c30" opacity="0.7"/>
<circle cx="252.5" cy="393.6" r="17.55" fill="url(#ball)" stroke="#c2c224" stroke-width="0.8"/>
<ellipse cx="252.5" cy="382.20000000000005" rx="9.8" ry="4.1" fill="url(#hl)"/>
<text x="252.5" y="397.90000000000003" font-size="13.6" text-anchor="middle" class="f">ZUO1</text>
<circle cx="284.40000000000003" cy="405.9" r="17.75" fill="#3c3c30" opacity="0.7"/>
<circle cx="284.1" cy="404" r="17.55" fill="url(#ball)" stroke="#c2c224" stroke-width="0.8"/>
<ellipse cx="284.1" cy="392.6" rx="9.8" ry="4.1" fill="url(#hl)"/>
<text x="284.1" y="408.3" font-size="13.6" text-anchor="middle" class="f">RPL27B</text>
<circle cx="330.5" cy="407.2" r="17.75" fill="#3c3c30" opacity="0.7"/>
<circle cx="330.2" cy="405.3" r="17.55" fill="url(#ball)" stroke="#c2c224" stroke-width="0.8"/>
<ellipse cx="330.2" cy="393.90000000000003" rx="9.8" ry="4.1" fill="url(#hl)"/>
<text x="330.2" y="409.6" font-size="13.6" text-anchor="middle" class="f">RPL13B</text>
<circle cx="154.10000000000002" cy="416.9" r="17.75" fill="#3c3c30" opacity="0.7"/>
<circle cx="153.8" cy="415" r="17.55" fill="url(#ball)" stroke="#c2c224" stroke-width="0.8"/>
<ellipse cx="153.8" cy="403.6" rx="9.8" ry="4.1" fill="url(#hl)"/>
<text x="153.8" y="419.3" font-size="13.6" text-anchor="middle" class="f">YPL225W</text>
<circle cx="358.40000000000003" cy="428.7" r="17.75" fill="#3c3c30" opacity="0.7"/>
<circle cx="358.1" cy="426.8" r="17.55" fill="url(#ball)" stroke="#c2c224" stroke-width="0.8"/>
<ellipse cx="358.1" cy="415.40000000000003" rx="9.8" ry="4.1" fill="url(#hl)"/>
<text x="358.1" y="431.1" font-size="13.6" text-anchor="middle" class="f">RPS9A</text>
<circle cx="395.2" cy="424.9" r="17.75" fill="#3c3c30" opacity="0.7"/>
<circle cx="394.9" cy="423" r="17.55" fill="url(#ball)" stroke="#c2c224" stroke-width="0.8"/>
<ellipse cx="394.9" cy="411.6" rx="9.8" ry="4.1" fill="url(#hl)"/>
<text x="394.9" y="427.3" font-size="13.6" text-anchor="middle" class="f">RPL7A</text>
<circle cx="314.1" cy="435.59999999999997" r="17.75" fill="#3c3c30" opacity="0.7"/>
<circle cx="313.8" cy="433.7" r="17.55" fill="url(#ball)" stroke="#c2c224" stroke-width="0.8"/>
<ellipse cx="313.8" cy="422.3" rx="9.8" ry="4.1" fill="url(#hl)"/>
<text x="313.8" y="438.0" font-size="13.6" text-anchor="middle" class="f">RPL3</text>
<circle cx="246.8" cy="455.4" r="17.75" fill="#3c3c30" opacity="0.7"/>
<circle cx="246.5" cy="453.5" r="17.55" fill="url(#ball)" stroke="#c2c224" stroke-width="0.8"/>
<ellipse cx="246.5" cy="442.1" rx="9.8" ry="4.1" fill="url(#hl)"/>
<text x="246.5" y="457.8" font-size="13.6" text-anchor="middle" class="f">HMO1</text>
<circle cx="283.90000000000003" cy="457.9" r="17.75" fill="#3c3c30" opacity="0.7"/>
<circle cx="283.6" cy="456" r="17.55" fill="url(#ball)" stroke="#c2c224" stroke-width="0.8"/>
<ellipse cx="283.6" cy="444.6" rx="9.8" ry="4.1" fill="url(#hl)"/>
<text x="283.6" y="460.3" font-size="13.6" text-anchor="middle" class="f">DBP3</text>
<circle cx="383.7" cy="459.09999999999997" r="17.75" fill="#3c3c30" opacity="0.7"/>
<circle cx="383.4" cy="457.2" r="17.55" fill="url(#ball)" stroke="#c2c224" stroke-width="0.8"/>
<ellipse cx="383.4" cy="445.8" rx="9.8" ry="4.1" fill="url(#hl)"/>
<text x="383.4" y="461.5" font-size="13.6" text-anchor="middle" class="f">SUI3</text>
<circle cx="343.1" cy="465.5" r="17.75" fill="#3c3c30" opacity="0.7"/>
<circle cx="342.8" cy="463.6" r="17.55" fill="url(#ball)" stroke="#c2c224" stroke-width="0.8"/>
<ellipse cx="342.8" cy="452.20000000000005" rx="9.8" ry="4.1" fill="url(#hl)"/>
<text x="342.8" y="467.90000000000003" font-size="13.6" text-anchor="middle" class="f">RRP1</text>
<circle cx="158.70000000000002" cy="500.4" r="17.75" fill="#3c3c30" opacity="0.7"/>
<circle cx="158.4" cy="498.5" r="17.55" fill="url(#ball)" stroke="#c2c224" stroke-width="0.8"/>
<ellipse cx="158.4" cy="487.1" rx="9.8" ry="4.1" fill="url(#hl)"/>
<text x="158.4" y="502.8" font-size="13.6" text-anchor="middle" class="f">RSC8</text>
<circle cx="255.5" cy="503.59999999999997" r="17.75" fill="#3c3c30" opacity="0.7"/>
<circle cx="255.2" cy="501.7" r="17.55" fill="url(#ball)" stroke="#c2c224" stroke-width="0.8"/>
<ellipse cx="255.2" cy="490.3" rx="9.8" ry="4.1" fill="url(#hl)"/>
<text x="255.2" y="506.0" font-size="13.6" text-anchor="middle" class="f">TSR2</text>
<circle cx="304.40000000000003" cy="502.7" r="17.75" fill="#3c3c30" opacity="0.7"/>
<circle cx="304.1" cy="500.8" r="17.55" fill="url(#ball)" stroke="#c2c224" stroke-width="0.8"/>
<ellipse cx="304.1" cy="489.40000000000003" rx="9.8" ry="4.1" fill="url(#hl)"/>
<text x="304.1" y="505.1" font-size="13.6" text-anchor="middle" class="f">TIF3</text>
<circle cx="365.3" cy="516.6999999999999" r="17.75" fill="#3c3c30" opacity="0.7"/>
<circle cx="365" cy="514.8" r="17.55" fill="url(#ball)" stroke="#c2c224" stroke-width="0.8"/>
<ellipse cx="365" cy="503.4" rx="9.8" ry="4.1" fill="url(#hl)"/>
<text x="365" y="519.0999999999999" font-size="13.6" text-anchor="middle" class="f">NSR1</text>
<circle cx="311.90000000000003" cy="547.6" r="17.75" fill="#3c3c30" opacity="0.7"/>
<circle cx="311.6" cy="545.7" r="17.55" fill="url(#ball)" stroke="#c2c224" stroke-width="0.8"/>
<ellipse cx="311.6" cy="534.3000000000001" rx="9.8" ry="4.1" fill="url(#hl)"/>
<text x="311.6" y="550.0" font-size="13.6" text-anchor="middle" class="f">RPC19</text>
<circle cx="296.3" cy="601.9" r="17.75" fill="#3c3c30" opacity="0.7"/>
<circle cx="296" cy="600" r="17.55" fill="url(#ball)" stroke="#c2c224" stroke-width="0.8"/>
<ellipse cx="296" cy="588.6" rx="9.8" ry="4.1" fill="url(#hl)"/>
<text x="296" y="604.3" font-size="13.6" text-anchor="middle" class="f">SLF1</text>
<ellipse cx="206.2" cy="268.7" rx="132" ry="62.5" fill="#bcb9b2" style="mix-blend-mode:multiply"/>
<ellipse cx="327.4" cy="431" rx="108" ry="122" fill="#0070ff" fill-opacity="0.3"/>
<text x="10.8" y="224.9" font-size="24.1" fill="#4b4108" class="f">Module 1</text>
<text x="407.2" y="540" font-size="25.3" fill="#0a80f0" class="f">Module 2</text>
</g>
<g id="pb">
<path d="M829.53,127.00 L830.42,135.73 L831.28,144.01 L832.12,151.84 L832.94,159.23 L833.74,166.16 L834.52,172.65 L835.27,178.69 L836.00,184.28 L836.71,189.42 L837.39,194.11 L838.05,198.35 L838.69,202.14 L839.31,205.48 L839.91,208.38 L840.48,210.83 L841.03,212.82 L841.56,214.37 L842.06,215.47 L842.55,216.12 L843.01,216.32 L843.45,216.08 L843.86,215.38 L844.25,214.24 L844.62,212.64 L844.97,210.60 L845.30,208.11 L845.60,205.17 L845.88,201.78 L846.14,197.94 L846.38,193.66 L846.59,188.92 L846.78,183.74 L846.95,178.10 L847.10,172.02 L847.22,165.49 L847.32,158.51 L847.40,151.08 L847.46,143.20 L847.49,134.88 L847.50,126.10 L849.50,126.11 L851.51,126.14 L853.51,126.20 L855.51,126.28 L857.52,126.38 L859.52,126.50 L858.91,135.26 L858.28,143.57 L857.63,151.43 L856.97,158.85 L856.28,165.81 L855.58,172.34 L854.86,178.41 L854.12,184.04 L853.36,189.22 L852.58,193.95 L851.79,198.24 L850.97,202.08 L850.14,205.47 L849.29,208.42 L848.42,210.91 L847.53,212.97 L846.63,214.57 L845.70,215.73 L844.76,216.44 L843.80,216.70 L842.82,216.52 L841.82,215.89 L840.80,214.81 L839.76,213.29 L838.71,211.32 L837.64,208.90 L836.55,206.03 L835.44,202.72 L834.31,198.96 L833.16,194.76 L832.00,190.10 L830.81,185.00 L829.61,179.46 L828.39,173.46 L827.15,167.02 L825.89,160.13 L824.61,152.80 L823.32,145.02 L822.00,136.79 L820.67,128.11Z" fill="#fed46c" stroke="#000" stroke-width="0.95" stroke-linejoin="round"/>
<path d="M803.04,131.68 L805.24,140.18 L807.40,148.24 L809.52,155.85 L811.61,163.02 L813.65,169.75 L815.65,176.04 L817.61,181.88 L819.52,187.29 L821.40,192.25 L823.24,196.76 L825.04,200.84 L826.79,204.47 L828.51,207.66 L830.19,210.41 L831.82,212.71 L833.42,214.57 L834.97,215.99 L836.48,216.97 L837.96,217.50 L839.39,217.59 L840.78,217.24 L842.13,216.45 L843.44,215.22 L844.71,213.54 L845.94,211.42 L847.13,208.85 L848.28,205.85 L849.39,202.40 L850.45,198.51 L851.48,194.17 L852.47,189.40 L853.41,184.18 L854.32,178.52 L855.18,172.42 L856.01,165.87 L856.79,158.88 L857.53,151.45 L858.23,143.58 L858.90,135.26 L859.52,126.50 L861.52,126.65 L863.51,126.81 L865.51,127.00 L867.50,127.21 L869.49,127.45 L871.48,127.70 L870.27,136.40 L869.02,144.66 L867.75,152.48 L866.45,159.86 L865.12,166.80 L863.76,173.30 L862.37,179.36 L860.95,184.98 L859.51,190.16 L858.03,194.90 L856.52,199.20 L854.99,203.06 L853.43,206.48 L851.83,209.45 L850.21,211.99 L848.56,214.09 L846.88,215.75 L845.17,216.97 L843.43,217.75 L841.66,218.09 L839.86,217.98 L838.04,217.44 L836.18,216.46 L834.29,215.04 L832.38,213.18 L830.44,210.87 L828.46,208.13 L826.46,204.95 L824.43,201.33 L822.37,197.26 L820.28,192.76 L818.16,187.82 L816.01,182.44 L813.84,176.61 L811.63,170.35 L809.39,163.65 L807.13,156.51 L804.84,148.92 L802.51,140.90 L800.16,132.44Z" fill="#fed46c" stroke="#000" stroke-width="0.95" stroke-linejoin="round"/>
<path d="M777.54,140.25 L781.01,148.33 L784.42,155.98 L787.77,163.19 L791.07,169.98 L794.31,176.34 L797.49,182.26 L800.62,187.76 L803.68,192.82 L806.69,197.46 L809.64,201.66 L812.54,205.44 L815.38,208.78 L818.16,211.69 L820.88,214.18 L823.54,216.23 L826.15,217.85 L828.70,219.04 L831.19,219.81 L833.63,220.14 L836.00,220.04 L838.32,219.51 L840.59,218.55 L842.79,217.16 L844.94,215.34 L847.03,213.09 L849.06,210.41 L851.04,207.30 L852.95,203.76 L854.81,199.79 L856.62,195.39 L858.36,190.56 L860.05,185.29 L861.68,179.60 L863.25,173.48 L864.77,166.92 L866.22,159.94 L867.62,152.53 L868.97,144.68 L870.25,136.41 L871.48,127.70 L873.47,127.98 L875.45,128.28 L877.43,128.60 L879.40,128.95 L881.37,129.32 L883.34,129.70 L881.52,138.31 L879.65,146.50 L877.72,154.26 L875.75,161.60 L873.72,168.51 L871.63,175.00 L869.50,181.07 L867.31,186.72 L865.07,191.94 L862.78,196.74 L860.43,201.12 L858.03,205.07 L855.58,208.60 L853.07,211.71 L850.52,214.39 L847.91,216.65 L845.24,218.49 L842.53,219.90 L839.76,220.89 L836.93,221.46 L834.06,221.60 L831.13,221.32 L828.15,220.62 L825.12,219.49 L822.03,217.94 L818.89,215.97 L815.70,213.58 L812.46,210.76 L809.16,207.52 L805.81,203.85 L802.41,199.76 L798.95,195.25 L795.44,190.32 L791.88,184.96 L788.27,179.18 L784.60,172.97 L780.88,166.35 L777.11,159.30 L773.28,151.82 L769.40,143.93Z" fill="#fed46c" stroke="#000" stroke-width="0.95" stroke-linejoin="round"/>
<path d="M753.60,152.53 L758.26,160.00 L762.85,167.06 L767.36,173.71 L771.80,179.95 L776.17,185.77 L780.46,191.18 L784.69,196.18 L788.84,200.76 L792.92,204.93 L796.92,208.69 L800.85,212.04 L804.71,214.98 L808.50,217.50 L812.22,219.61 L815.86,221.31 L819.43,222.59 L822.93,223.47 L826.35,223.93 L829.70,223.97 L832.98,223.61 L836.19,222.83 L839.33,221.64 L842.39,220.04 L845.38,218.03 L848.29,215.60 L851.14,212.76 L853.91,209.51 L856.61,205.84 L859.24,201.77 L861.79,197.28 L864.27,192.38 L866.68,187.06 L869.02,181.34 L871.28,175.20 L873.47,168.65 L875.59,161.68 L877.63,154.31 L879.61,146.52 L881.51,138.32 L883.34,129.70 L885.30,130.11 L887.26,130.55 L889.21,131.00 L891.16,131.47 L893.10,131.97 L895.03,132.49 L892.62,140.97 L890.15,149.04 L887.62,156.70 L885.02,163.96 L882.37,170.82 L879.64,177.26 L876.86,183.31 L874.01,188.94 L871.10,194.17 L868.13,198.99 L865.10,203.41 L862.00,207.42 L858.84,211.03 L855.62,214.23 L852.33,217.02 L848.98,219.41 L845.57,221.39 L842.10,222.97 L838.56,224.14 L834.96,224.90 L831.30,225.26 L827.58,225.21 L823.79,224.75 L819.94,223.89 L816.03,222.63 L812.05,220.95 L808.02,218.88 L803.92,216.39 L799.75,213.50 L795.53,210.20 L791.24,206.50 L786.89,202.39 L782.47,197.88 L778.00,192.96 L773.46,187.63 L768.86,181.90 L764.19,175.76 L759.46,169.22 L754.67,162.26 L749.82,154.91Z" fill="#fed46c" stroke="#000" stroke-width="0.95" stroke-linejoin="round"/>
<path d="M731.76,168.24 L737.51,174.94 L743.16,181.25 L748.74,187.17 L754.23,192.70 L759.63,197.84 L764.95,202.59 L770.18,206.95 L775.33,210.93 L780.39,214.51 L785.37,217.70 L790.26,220.51 L795.07,222.93 L799.79,224.95 L804.42,226.59 L808.97,227.84 L813.44,228.69 L817.82,229.16 L822.11,229.24 L826.32,228.93 L830.45,228.23 L834.49,227.14 L838.44,225.67 L842.31,223.80 L846.09,221.54 L849.79,218.90 L853.40,215.86 L856.93,212.44 L860.37,208.62 L863.73,204.42 L867.00,199.83 L870.19,194.85 L873.29,189.47 L876.31,183.71 L879.24,177.56 L882.08,171.03 L884.84,164.10 L887.52,156.78 L890.11,149.07 L892.61,140.98 L895.03,132.49 L896.96,133.03 L898.89,133.59 L900.80,134.17 L902.72,134.78 L904.62,135.40 L906.52,136.05 L903.53,144.36 L900.47,152.29 L897.33,159.84 L894.12,167.00 L890.84,173.78 L887.48,180.18 L884.05,186.20 L880.55,191.83 L876.97,197.08 L873.32,201.95 L869.60,206.44 L865.80,210.54 L861.93,214.26 L857.98,217.60 L853.96,220.56 L849.87,223.13 L845.70,225.33 L841.46,227.14 L837.14,228.56 L832.75,229.61 L828.29,230.27 L823.76,230.55 L819.15,230.44 L814.46,229.96 L809.70,229.09 L804.87,227.84 L799.97,226.21 L794.99,224.19 L789.94,221.79 L784.81,219.01 L779.61,215.85 L774.34,212.31 L768.99,208.38 L763.57,204.07 L758.08,199.38 L752.51,194.30 L746.87,188.84 L741.15,183.00 L735.36,176.78 L729.50,170.18Z" fill="#fed46c" stroke="#000" stroke-width="0.95" stroke-linejoin="round"/>
<path d="M683.41,232.11 L691.55,235.66 L699.56,238.90 L707.43,241.84 L715.18,244.47 L722.79,246.80 L730.27,248.82 L737.62,250.53 L744.84,251.95 L751.93,253.05 L758.89,253.85 L765.71,254.35 L772.41,254.54 L778.97,254.43 L785.40,254.01 L791.70,253.29 L797.87,252.26 L803.91,250.92 L809.81,249.28 L815.59,247.34 L821.23,245.09 L826.74,242.54 L832.12,239.68 L837.37,236.51 L842.49,233.04 L847.48,229.27 L852.33,225.19 L857.06,220.81 L861.65,216.12 L866.11,211.12 L870.44,205.82 L874.64,200.22 L878.71,194.31 L882.64,188.09 L886.45,181.57 L890.12,174.75 L893.66,167.62 L897.07,160.18 L900.35,152.44 L903.50,144.40 L906.52,136.05 L908.41,136.72 L910.29,137.41 L912.16,138.12 L914.03,138.85 L915.89,139.60 L917.74,140.37 L914.17,148.51 L910.48,156.35 L906.67,163.90 L902.74,171.15 L898.69,178.10 L894.53,184.76 L890.24,191.12 L885.84,197.18 L881.32,202.95 L876.68,208.42 L871.92,213.60 L867.04,218.48 L862.04,223.06 L856.93,227.35 L851.69,231.34 L846.34,235.03 L840.87,238.43 L835.28,241.54 L829.57,244.34 L823.74,246.85 L817.79,249.06 L811.72,250.98 L805.54,252.60 L799.23,253.93 L792.81,254.96 L786.27,255.69 L779.61,256.12 L772.83,256.26 L765.93,256.11 L758.91,255.66 L751.78,254.91 L744.52,253.86 L737.15,252.52 L729.66,250.88 L722.05,248.95 L714.32,246.72 L706.47,244.19 L698.50,241.37 L690.41,238.25 L682.21,234.84Z" fill="#fed46c" stroke="#000" stroke-width="0.95" stroke-linejoin="round"/>
<path d="M674.21,257.39 L682.81,259.70 L691.29,261.73 L699.63,263.49 L707.84,264.99 L715.93,266.22 L723.88,267.18 L731.71,267.87 L739.41,268.30 L746.98,268.46 L754.42,268.35 L761.73,267.97 L768.91,267.32 L775.97,266.40 L782.89,265.22 L789.69,263.77 L796.36,262.05 L802.89,260.06 L809.30,257.81 L815.59,255.28 L821.74,252.49 L827.76,249.43 L833.66,246.10 L839.42,242.51 L845.06,238.64 L850.57,234.51 L855.95,230.11 L861.20,225.44 L866.32,220.51 L871.31,215.30 L876.18,209.83 L880.91,204.09 L885.52,198.08 L890.00,191.81 L894.35,185.26 L898.57,178.45 L902.66,171.37 L906.62,164.02 L910.46,156.41 L914.16,148.52 L917.74,140.37 L919.58,141.16 L921.41,141.97 L923.23,142.81 L925.05,143.66 L926.85,144.53 L928.65,145.43 L924.53,153.34 L920.30,160.99 L915.94,168.40 L911.47,175.56 L906.89,182.46 L902.18,189.11 L897.36,195.52 L892.41,201.67 L887.35,207.57 L882.18,213.22 L876.88,218.62 L871.47,223.77 L865.94,228.66 L860.29,233.31 L854.52,237.71 L848.63,241.85 L842.63,245.74 L836.51,249.39 L830.27,252.78 L823.91,255.92 L817.44,258.81 L810.85,261.45 L804.14,263.84 L797.31,265.97 L790.36,267.86 L783.30,269.50 L776.11,270.88 L768.81,272.01 L761.40,272.90 L753.86,273.53 L746.21,273.91 L738.43,274.04 L730.54,273.92 L722.54,273.55 L714.41,272.92 L706.17,272.05 L697.81,270.93 L689.33,269.55 L680.73,267.92 L672.01,266.05Z" fill="#fed46c" stroke="#000" stroke-width="0.95" stroke-linejoin="round"/>
<path d="M668.89,283.77 L677.76,284.77 L686.51,285.54 L695.13,286.09 L703.64,286.40 L712.02,286.49 L720.28,286.35 L728.42,285.98 L736.44,285.38 L744.33,284.55 L752.10,283.50 L759.76,282.21 L767.28,280.70 L774.69,278.95 L781.98,276.98 L789.14,274.78 L796.18,272.35 L803.10,269.69 L809.90,266.81 L816.58,263.69 L823.13,260.35 L829.57,256.78 L835.88,252.97 L842.07,248.94 L848.14,244.68 L854.08,240.20 L859.90,235.48 L865.61,230.53 L871.19,225.36 L876.64,219.96 L881.98,214.33 L887.20,208.47 L892.29,202.38 L897.26,196.06 L902.11,189.51 L906.84,182.74 L911.44,175.73 L915.93,168.50 L920.29,161.04 L924.53,153.35 L928.65,145.43 L930.43,146.34 L932.20,147.28 L933.97,148.23 L935.72,149.20 L937.46,150.19 L939.19,151.20 L934.55,158.84 L929.80,166.27 L924.94,173.49 L919.97,180.50 L914.90,187.30 L909.71,193.89 L904.41,200.26 L899.00,206.43 L893.49,212.38 L887.86,218.13 L882.12,223.67 L876.27,228.99 L870.32,234.10 L864.25,239.01 L858.08,243.70 L851.79,248.19 L845.39,252.46 L838.89,256.52 L832.27,260.37 L825.55,264.01 L818.71,267.44 L811.77,270.66 L804.72,273.67 L797.55,276.47 L790.28,279.06 L782.89,281.44 L775.40,283.61 L767.80,285.57 L760.09,287.32 L752.26,288.85 L744.33,290.18 L736.29,291.30 L728.14,292.20 L719.88,292.90 L711.51,293.38 L703.02,293.66 L694.43,293.72 L685.73,293.57 L676.92,293.22 L668.00,292.65Z" fill="#fed46c" stroke="#000" stroke-width="0.95" stroke-linejoin="round"/>
<path d="M667.56,310.64 L676.50,310.31 L685.33,309.81 L694.05,309.11 L702.66,308.22 L711.16,307.15 L719.55,305.89 L727.83,304.44 L736.00,302.81 L744.06,300.98 L752.01,298.97 L759.85,296.77 L767.58,294.38 L775.20,291.81 L782.71,289.04 L790.10,286.09 L797.39,282.95 L804.57,279.62 L811.63,276.11 L818.59,272.40 L825.44,268.51 L832.17,264.43 L838.80,260.16 L845.31,255.71 L851.72,251.06 L858.01,246.23 L864.20,241.21 L870.27,236.00 L876.23,230.61 L882.09,225.03 L887.83,219.25 L893.46,213.30 L898.98,207.15 L904.40,200.81 L909.70,194.29 L914.89,187.58 L919.97,180.68 L924.94,173.59 L929.80,166.32 L934.55,158.85 L939.19,151.20 L940.91,152.23 L942.62,153.28 L944.31,154.35 L946.00,155.44 L947.67,156.55 L949.33,157.67 L944.19,165.00 L938.95,172.16 L933.61,179.14 L928.18,185.95 L922.65,192.58 L917.02,199.03 L911.30,205.31 L905.48,211.41 L899.56,217.33 L893.54,223.08 L887.42,228.65 L881.21,234.05 L874.90,239.27 L868.49,244.31 L861.99,249.18 L855.38,253.87 L848.68,258.38 L841.88,262.72 L834.99,266.88 L828.00,270.87 L820.91,274.68 L813.72,278.31 L806.43,281.77 L799.05,285.05 L791.57,288.16 L783.99,291.09 L776.31,293.84 L768.54,296.42 L760.67,298.82 L752.70,301.05 L744.64,303.10 L736.47,304.97 L728.21,306.67 L719.85,308.19 L711.40,309.53 L702.85,310.70 L694.19,311.69 L685.45,312.51 L676.60,313.15 L667.66,313.61Z" fill="#fed46c" stroke="#000" stroke-width="0.95" stroke-linejoin="round"/>
<path d="M670.24,337.40 L679.06,335.77 L687.78,333.98 L696.41,332.05 L704.94,329.97 L713.38,327.75 L721.72,325.38 L729.97,322.86 L738.13,320.20 L746.19,317.39 L754.16,314.43 L762.03,311.33 L769.81,308.08 L777.49,304.69 L785.08,301.14 L792.58,297.46 L799.98,293.62 L807.29,289.64 L814.50,285.51 L821.62,281.24 L828.64,276.82 L835.57,272.25 L842.41,267.54 L849.15,262.68 L855.80,257.67 L862.35,252.52 L868.81,247.22 L875.17,241.78 L881.44,236.19 L887.62,230.45 L893.70,224.57 L899.69,218.53 L905.58,212.36 L911.38,206.03 L917.08,199.56 L922.69,192.95 L928.21,186.19 L933.63,179.28 L938.96,172.22 L944.19,165.02 L949.33,157.67 L950.97,158.81 L952.61,159.98 L954.23,161.15 L955.84,162.35 L957.43,163.57 L959.01,164.80 L953.39,171.80 L947.70,178.68 L941.92,185.43 L936.07,192.05 L930.13,198.54 L924.12,204.91 L918.02,211.15 L911.85,217.27 L905.59,223.26 L899.26,229.12 L892.84,234.86 L886.35,240.47 L879.77,245.95 L873.12,251.31 L866.38,256.54 L859.57,261.64 L852.67,266.62 L845.70,271.47 L838.64,276.19 L831.51,280.79 L824.29,285.26 L817.00,289.60 L809.62,293.82 L802.17,297.91 L794.63,301.88 L787.02,305.71 L779.32,309.42 L771.55,313.01 L763.69,316.47 L755.76,319.80 L747.74,323.00 L739.65,326.08 L731.47,329.03 L723.22,331.86 L714.89,334.56 L706.47,337.13 L697.98,339.58 L689.40,341.90 L680.75,344.09 L672.01,346.15Z" fill="#fed46c" stroke="#000" stroke-width="0.95" stroke-linejoin="round"/>
<path d="M676.89,363.47 L685.38,360.55 L693.80,357.53 L702.15,354.40 L710.42,351.16 L718.62,347.82 L726.74,344.37 L734.79,340.82 L742.77,337.17 L750.67,333.41 L758.50,329.54 L766.26,325.57 L773.94,321.50 L781.54,317.32 L789.08,313.03 L796.54,308.64 L803.92,304.15 L811.23,299.55 L818.47,294.84 L825.63,290.03 L832.72,285.12 L839.74,280.10 L846.68,274.97 L853.55,269.75 L860.35,264.41 L867.07,258.97 L873.71,253.43 L880.29,247.78 L886.78,242.03 L893.21,236.17 L899.56,230.20 L905.84,224.14 L912.04,217.96 L918.17,211.68 L924.23,205.30 L930.21,198.81 L936.12,192.22 L941.95,185.52 L947.71,178.72 L953.40,171.81 L959.01,164.80 L960.58,166.05 L962.13,167.32 L963.67,168.60 L965.19,169.91 L966.70,171.22 L968.19,172.56 L962.13,179.19 L956.00,185.73 L949.81,192.18 L943.57,198.53 L937.26,204.80 L930.88,210.97 L924.45,217.05 L917.96,223.04 L911.40,228.94 L904.79,234.75 L898.11,240.46 L891.37,246.08 L884.57,251.61 L877.71,257.05 L870.79,262.40 L863.81,267.66 L856.76,272.82 L849.66,277.89 L842.49,282.87 L835.26,287.76 L827.97,292.56 L820.62,297.26 L813.21,301.88 L805.74,306.40 L798.21,310.83 L790.61,315.17 L782.96,319.42 L775.24,323.57 L767.46,327.64 L759.62,331.61 L751.72,335.49 L743.76,339.28 L735.74,342.97 L727.65,346.58 L719.51,350.09 L711.30,353.52 L703.03,356.85 L694.70,360.08 L686.31,363.23 L677.86,366.29Z" fill="#fed46c" stroke="#000" stroke-width="0.95" stroke-linejoin="round"/>
<path d="M687.34,388.26 L695.33,384.12 L703.26,379.92 L711.15,375.65 L718.98,371.31 L726.77,366.92 L734.50,362.46 L742.19,357.93 L749.83,353.34 L757.42,348.69 L764.96,343.97 L772.45,339.19 L779.89,334.34 L787.28,329.43 L794.62,324.45 L801.91,319.41 L809.16,314.31 L816.35,309.14 L823.49,303.91 L830.59,298.62 L837.63,293.26 L844.63,287.83 L851.58,282.34 L858.48,276.79 L865.33,271.17 L872.12,265.49 L878.87,259.74 L885.57,253.93 L892.23,248.06 L898.83,242.12 L905.38,236.12 L911.88,230.05 L918.34,223.92 L924.74,217.73 L931.10,211.47 L937.40,205.14 L943.66,198.75 L949.87,192.30 L956.03,185.79 L962.13,179.20 L968.19,172.56 L969.67,173.91 L971.14,175.28 L972.59,176.67 L974.02,178.07 L975.44,179.48 L976.84,180.92 L970.35,187.15 L963.83,193.33 L957.27,199.47 L950.68,205.55 L944.05,211.58 L937.38,217.56 L930.67,223.49 L923.93,229.37 L917.15,235.20 L910.33,240.98 L903.48,246.71 L896.59,252.39 L889.66,258.02 L882.70,263.60 L875.70,269.12 L868.66,274.60 L861.58,280.03 L854.47,285.40 L847.33,290.73 L840.14,296.00 L832.92,301.23 L825.66,306.40 L818.37,311.52 L811.04,316.60 L803.67,321.62 L796.26,326.59 L788.82,331.51 L781.34,336.38 L773.83,341.20 L766.27,345.97 L758.68,350.69 L751.06,355.36 L743.39,359.98 L735.70,364.55 L727.96,369.07 L720.19,373.53 L712.38,377.95 L704.53,382.32 L696.65,386.63 L688.73,390.90Z" fill="#fed46c" stroke="#000" stroke-width="0.95" stroke-linejoin="round"/>
<path d="M718.68,431.82 L725.12,425.53 L731.56,419.25 L738.00,412.96 L744.45,406.68 L750.89,400.40 L757.34,394.11 L763.78,387.83 L770.23,381.55 L776.67,375.27 L783.12,368.99 L789.57,362.71 L796.02,356.43 L802.47,350.16 L808.92,343.88 L815.37,337.60 L821.82,331.33 L828.27,325.05 L834.72,318.78 L841.18,312.51 L847.63,306.23 L854.08,299.96 L860.54,293.69 L866.99,287.42 L873.45,281.15 L879.91,274.88 L886.37,268.61 L892.82,262.34 L899.28,256.07 L905.74,249.81 L912.20,243.54 L918.66,237.28 L925.12,231.01 L931.59,224.75 L938.05,218.48 L944.51,212.22 L950.98,205.96 L957.44,199.70 L963.91,193.44 L970.37,187.18 L976.84,180.92 L978.23,182.36 L979.60,183.83 L980.95,185.31 L982.29,186.80 L983.61,188.31 L984.91,189.83 L978.05,195.65 L971.21,201.50 L964.38,207.36 L957.58,213.24 L950.79,219.14 L944.02,225.06 L937.27,231.00 L930.54,236.96 L923.83,242.95 L917.14,248.94 L910.47,254.96 L903.81,261.00 L897.18,267.06 L890.56,273.14 L883.96,279.24 L877.38,285.35 L870.82,291.49 L864.27,297.65 L857.75,303.82 L851.24,310.02 L844.76,316.24 L838.29,322.47 L831.84,328.72 L825.41,335.00 L819.00,341.29 L812.61,347.61 L806.23,353.94 L799.88,360.29 L793.54,366.66 L787.22,373.05 L780.92,379.47 L774.64,385.90 L768.38,392.35 L762.14,398.82 L755.91,405.31 L749.70,411.82 L743.52,418.35 L737.35,424.89 L731.20,431.46 L725.07,438.05Z" fill="#fed46c" stroke="#000" stroke-width="0.95" stroke-linejoin="round"/>
<path d="M761.46,464.20 L765.79,456.32 L770.19,448.50 L774.65,440.72 L779.18,433.00 L783.77,425.33 L788.43,417.71 L793.14,410.15 L797.93,402.64 L802.78,395.17 L807.69,387.77 L812.66,380.41 L817.71,373.11 L822.81,365.85 L827.98,358.66 L833.21,351.51 L838.51,344.41 L843.87,337.37 L849.30,330.38 L854.79,323.44 L860.34,316.56 L865.96,309.72 L871.64,302.94 L877.39,296.22 L883.20,289.54 L889.08,282.92 L895.01,276.34 L901.02,269.82 L907.09,263.36 L913.22,256.94 L919.41,250.58 L925.68,244.27 L932.00,238.01 L938.39,231.81 L944.84,225.65 L951.36,219.55 L957.94,213.50 L964.59,207.51 L971.30,201.56 L978.07,195.67 L984.91,189.83 L986.20,191.37 L987.46,192.92 L988.72,194.48 L989.95,196.06 L991.17,197.66 L992.36,199.26 L985.16,204.64 L978.03,210.08 L970.98,215.58 L964.01,221.16 L957.11,226.79 L950.29,232.50 L943.54,238.27 L936.88,244.10 L930.29,250.01 L923.77,255.97 L917.34,262.01 L910.98,268.10 L904.69,274.27 L898.49,280.50 L892.36,286.80 L886.30,293.16 L880.33,299.59 L874.43,306.08 L868.61,312.64 L862.86,319.27 L857.19,325.96 L851.60,332.72 L846.09,339.54 L840.65,346.43 L835.29,353.38 L830.00,360.40 L824.79,367.49 L819.66,374.64 L814.61,381.86 L809.63,389.14 L804.73,396.49 L799.91,403.91 L795.16,411.39 L790.49,418.94 L785.90,426.55 L781.38,434.23 L776.94,441.97 L772.58,449.79 L768.29,457.66 L764.08,465.60Z" fill="#fed46c" stroke="#000" stroke-width="0.95" stroke-linejoin="round"/>
<path d="M785.98,475.26 L789.11,466.84 L792.34,458.50 L795.68,450.24 L799.12,442.05 L802.66,433.94 L806.31,425.92 L810.07,417.96 L813.92,410.09 L817.88,402.29 L821.95,394.58 L826.12,386.94 L830.39,379.37 L834.77,371.89 L839.25,364.48 L843.84,357.15 L848.53,349.90 L853.33,342.73 L858.23,335.64 L863.23,328.62 L868.34,321.68 L873.55,314.82 L878.86,308.04 L884.28,301.33 L889.81,294.70 L895.44,288.15 L901.17,281.68 L907.01,275.29 L912.95,268.97 L918.99,262.74 L925.14,256.58 L931.39,250.49 L937.75,244.49 L944.21,238.56 L950.78,232.72 L957.45,226.95 L964.23,221.25 L971.10,215.64 L978.09,210.10 L985.17,204.64 L992.36,199.26 L993.55,200.88 L994.71,202.51 L995.85,204.16 L996.98,205.82 L998.09,207.49 L999.17,209.17 L991.65,214.06 L984.24,219.05 L976.95,224.13 L969.78,229.29 L962.73,234.56 L955.80,239.91 L948.98,245.35 L942.28,250.89 L935.70,256.52 L929.24,262.24 L922.89,268.06 L916.66,273.96 L910.55,279.96 L904.56,286.05 L898.69,292.23 L892.93,298.51 L887.30,304.87 L881.78,311.33 L876.38,317.88 L871.09,324.53 L865.93,331.26 L860.88,338.09 L855.95,345.01 L851.14,352.02 L846.44,359.12 L841.87,366.32 L837.41,373.61 L833.07,380.99 L828.85,388.46 L824.75,396.02 L820.76,403.68 L816.89,411.43 L813.14,419.27 L809.51,427.20 L806.00,435.23 L802.60,443.34 L799.32,451.55 L796.16,459.86 L793.12,468.25 L790.20,476.73Z" fill="#fed46c" stroke="#000" stroke-width="0.95" stroke-linejoin="round"/>
<path d="M838.58,485.88 L839.11,476.94 L839.83,468.11 L840.72,459.38 L841.79,450.75 L843.04,442.23 L844.46,433.81 L846.07,425.49 L847.86,417.28 L849.82,409.17 L851.96,401.17 L854.28,393.27 L856.78,385.47 L859.45,377.77 L862.31,370.18 L865.34,362.70 L868.56,355.31 L871.95,348.03 L875.51,340.86 L879.26,333.78 L883.19,326.81 L887.29,319.95 L891.57,313.18 L896.04,306.53 L900.67,299.97 L905.49,293.52 L910.49,287.17 L915.66,280.93 L921.02,274.79 L926.55,268.75 L932.26,262.81 L938.15,256.98 L944.21,251.26 L950.46,245.63 L956.88,240.11 L963.49,234.70 L970.27,229.39 L977.23,224.18 L984.36,219.07 L991.68,214.07 L999.17,209.17 L1000.24,210.87 L1001.29,212.57 L1002.33,214.29 L1003.34,216.02 L1004.33,217.76 L1005.31,219.51 L997.51,223.90 L989.91,228.41 L982.49,233.03 L975.26,237.76 L968.23,242.62 L961.38,247.59 L954.72,252.68 L948.26,257.88 L941.98,263.20 L935.89,268.64 L930.00,274.19 L924.29,279.86 L918.77,285.65 L913.44,291.56 L908.31,297.58 L903.36,303.71 L898.60,309.97 L894.03,316.34 L889.65,322.83 L885.46,329.43 L881.46,336.15 L877.66,342.99 L874.04,349.94 L870.61,357.01 L867.37,364.20 L864.32,371.50 L861.46,378.92 L858.79,386.46 L856.31,394.11 L854.02,401.88 L851.91,409.77 L850.00,417.77 L848.28,425.89 L846.75,434.13 L845.41,442.48 L844.26,450.95 L843.30,459.54 L842.52,468.24 L841.94,477.06 L841.55,486.00Z" fill="#fed46c" stroke="#000" stroke-width="0.95" stroke-linejoin="round"/>
<path d="M800.16,132.44 L802.60,140.97 L805.19,149.19 L807.93,157.11 L810.81,164.73 L813.84,172.04 L817.02,179.04 L820.35,185.74 L823.83,192.14 L827.45,198.23 L831.22,204.01 L835.14,209.49 L839.21,214.67 L843.43,219.54 L847.79,224.10 L852.30,228.36 L856.96,232.32 L861.77,235.97 L866.73,239.31 L871.83,242.35 L877.08,245.08 L882.48,247.51 L888.03,249.64 L893.72,251.46 L899.56,252.97 L905.55,254.18 L911.69,255.08 L917.98,255.68 L924.41,255.97 L931.00,255.96 L937.73,255.65 L944.60,255.02 L951.63,254.10 L958.80,252.87 L966.13,251.33 L973.60,249.49 L981.21,247.34 L988.98,244.89 L996.89,242.13 L1004.95,239.07 L1013.16,235.70 L1013.91,237.49 L1014.64,239.29 L1015.35,241.10 L1016.04,242.91 L1016.72,244.73 L1017.37,246.56 L1008.95,249.40 L1000.68,251.94 L992.56,254.19 L984.59,256.15 L976.77,257.82 L969.10,259.20 L961.58,260.28 L954.21,261.08 L946.99,261.59 L939.91,261.81 L932.99,261.73 L926.22,261.37 L919.59,260.72 L913.12,259.77 L906.79,258.54 L900.62,257.01 L894.59,255.19 L888.72,253.09 L882.99,250.69 L877.42,248.00 L871.99,245.02 L866.71,241.75 L861.58,238.20 L856.61,234.35 L851.78,230.21 L847.10,225.77 L842.57,221.05 L838.19,216.04 L833.96,210.74 L829.88,205.15 L825.95,199.26 L822.16,193.09 L818.53,186.63 L815.05,179.87 L811.72,172.83 L808.53,165.49 L805.50,157.86 L802.61,149.95 L799.88,141.74 L797.29,133.24Z" fill="#b6e3fa" stroke="#000" stroke-width="0.95" stroke-linejoin="round"/>
<path d="M729.50,170.18 L735.43,176.85 L741.43,183.28 L747.49,189.46 L753.62,195.41 L759.81,201.10 L766.07,206.55 L772.39,211.76 L778.77,216.73 L785.22,221.45 L791.74,225.92 L798.32,230.15 L804.97,234.14 L811.68,237.88 L818.45,241.38 L825.29,244.63 L832.20,247.64 L839.17,250.41 L846.20,252.93 L853.30,255.20 L860.47,257.23 L867.70,259.02 L874.99,260.57 L882.35,261.86 L889.77,262.92 L897.26,263.73 L904.81,264.30 L912.43,264.62 L920.12,264.69 L927.86,264.53 L935.68,264.12 L943.55,263.46 L951.50,262.56 L959.50,261.42 L967.58,260.03 L975.71,258.39 L983.91,256.52 L992.18,254.39 L1000.51,252.03 L1008.91,249.42 L1017.37,246.56 L1018.00,248.40 L1018.61,250.24 L1019.21,252.09 L1019.78,253.95 L1020.33,255.81 L1020.86,257.68 L1012.23,259.98 L1003.66,262.06 L995.16,263.91 L986.72,265.54 L978.35,266.93 L970.05,268.10 L961.81,269.04 L953.64,269.75 L945.54,270.23 L937.50,270.49 L929.53,270.52 L921.63,270.32 L913.79,269.89 L906.02,269.23 L898.31,268.35 L890.67,267.23 L883.10,265.89 L875.60,264.33 L868.16,262.53 L860.78,260.51 L853.48,258.25 L846.24,255.77 L839.06,253.06 L831.95,250.13 L824.91,246.96 L817.94,243.57 L811.03,239.95 L804.19,236.10 L797.41,232.03 L790.70,227.72 L784.06,223.19 L777.49,218.43 L770.98,213.44 L764.53,208.23 L758.16,202.78 L751.84,197.11 L745.60,191.21 L739.42,185.08 L733.31,178.73 L727.27,172.14Z" fill="#b6e3fa" stroke="#000" stroke-width="0.95" stroke-linejoin="round"/>
<path d="M712.51,187.03 L719.28,192.88 L726.10,198.52 L732.97,203.95 L739.89,209.17 L746.86,214.18 L753.87,218.98 L760.93,223.58 L768.04,227.96 L775.20,232.13 L782.40,236.10 L789.66,239.85 L796.96,243.40 L804.31,246.74 L811.70,249.86 L819.15,252.78 L826.64,255.49 L834.18,257.99 L841.77,260.28 L849.41,262.36 L857.09,264.23 L864.83,265.89 L872.61,267.34 L880.44,268.58 L888.31,269.62 L896.24,270.44 L904.21,271.06 L912.23,271.46 L920.30,271.66 L928.42,271.64 L936.58,271.42 L944.79,270.99 L953.05,270.35 L961.36,269.49 L969.72,268.43 L978.12,267.16 L986.58,265.69 L995.08,264.00 L1003.62,262.10 L1012.22,259.99 L1020.86,257.68 L1021.38,259.55 L1021.87,261.43 L1022.34,263.31 L1022.79,265.20 L1023.22,267.09 L1023.63,268.99 L1014.85,270.75 L1006.12,272.32 L997.43,273.70 L988.79,274.88 L980.20,275.88 L971.65,276.69 L963.16,277.30 L954.71,277.72 L946.31,277.95 L937.96,278.00 L929.65,277.85 L921.39,277.51 L913.18,276.97 L905.02,276.25 L896.91,275.34 L888.84,274.23 L880.83,272.94 L872.85,271.45 L864.93,269.77 L857.06,267.90 L849.23,265.84 L841.45,263.59 L833.72,261.15 L826.04,258.52 L818.40,255.69 L810.81,252.68 L803.27,249.47 L795.78,246.08 L788.33,242.49 L780.94,238.71 L773.59,234.74 L766.29,230.58 L759.03,226.23 L751.83,221.68 L744.67,216.95 L737.56,212.03 L730.50,206.91 L723.48,201.60 L716.52,196.11 L709.60,190.42Z" fill="#b6e3fa" stroke="#000" stroke-width="0.95" stroke-linejoin="round"/>
<path d="M696.27,208.48 L703.85,213.28 L711.45,217.91 L719.09,222.37 L726.76,226.66 L734.47,230.78 L742.20,234.74 L749.96,238.52 L757.76,242.14 L765.58,245.59 L773.44,248.87 L781.33,251.98 L789.25,254.93 L797.20,257.70 L805.18,260.31 L813.19,262.75 L821.24,265.02 L829.31,267.12 L837.42,269.06 L845.56,270.82 L853.73,272.42 L861.93,273.85 L870.16,275.11 L878.42,276.20 L886.71,277.12 L895.04,277.88 L903.39,278.46 L911.78,278.88 L920.19,279.13 L928.64,279.21 L937.12,279.13 L945.63,278.87 L954.18,278.45 L962.75,277.85 L971.35,277.09 L979.99,276.16 L988.66,275.07 L997.35,273.80 L1006.08,272.36 L1014.84,270.76 L1023.63,268.99 L1024.02,270.89 L1024.39,272.80 L1024.74,274.71 L1025.07,276.62 L1025.38,278.54 L1025.66,280.46 L1016.77,281.67 L1007.91,282.73 L999.08,283.63 L990.28,284.39 L981.51,285.00 L972.77,285.46 L964.06,285.78 L955.38,285.94 L946.73,285.95 L938.12,285.81 L929.53,285.53 L920.98,285.09 L912.45,284.51 L903.96,283.77 L895.49,282.89 L887.06,281.86 L878.66,280.67 L870.29,279.34 L861.95,277.86 L853.64,276.23 L845.36,274.45 L837.11,272.52 L828.90,270.44 L820.71,268.22 L812.55,265.84 L804.43,263.31 L796.33,260.64 L788.27,257.81 L780.24,254.84 L772.23,251.71 L764.26,248.44 L756.32,245.02 L748.41,241.45 L740.53,237.73 L732.68,233.85 L724.86,229.83 L717.07,225.67 L709.32,221.35 L701.59,216.88 L693.90,212.26Z" fill="#b6e3fa" stroke="#000" stroke-width="0.95" stroke-linejoin="round"/>
<path d="M682.21,234.84 L690.48,238.34 L698.77,241.72 L707.07,244.98 L715.40,248.12 L723.73,251.14 L732.09,254.03 L740.45,256.81 L748.84,259.46 L757.24,262.00 L765.66,264.41 L774.09,266.70 L782.54,268.87 L791.01,270.92 L799.49,272.85 L807.99,274.66 L816.50,276.34 L825.03,277.91 L833.58,279.35 L842.14,280.67 L850.72,281.87 L859.31,282.95 L867.92,283.91 L876.55,284.75 L885.19,285.47 L893.85,286.06 L902.53,286.54 L911.22,286.89 L919.92,287.12 L928.65,287.23 L937.39,287.22 L946.14,287.09 L954.91,286.84 L963.70,286.47 L972.50,285.97 L981.32,285.36 L990.16,284.62 L999.01,283.76 L1007.88,282.78 L1016.76,281.68 L1025.66,280.46 L1025.93,282.38 L1026.18,284.31 L1026.40,286.24 L1026.60,288.17 L1026.79,290.10 L1026.95,292.04 L1017.99,292.69 L1009.04,293.24 L1000.11,293.68 L991.19,294.03 L982.29,294.26 L973.41,294.40 L964.54,294.43 L955.69,294.36 L946.86,294.19 L938.04,293.91 L929.24,293.53 L920.45,293.04 L911.68,292.46 L902.93,291.77 L894.19,290.97 L885.47,290.07 L876.77,289.07 L868.08,287.97 L859.41,286.76 L850.75,285.45 L842.11,284.04 L833.49,282.52 L824.88,280.90 L816.29,279.18 L807.72,277.36 L799.16,275.43 L790.62,273.39 L782.09,271.26 L773.58,269.02 L765.09,266.68 L756.61,264.23 L748.15,261.68 L739.71,259.03 L731.28,256.28 L722.87,253.42 L714.47,250.46 L706.09,247.39 L697.73,244.22 L689.38,240.95 L681.05,237.58Z" fill="#b6e3fa" stroke="#000" stroke-width="0.95" stroke-linejoin="round"/>
<path d="M667.66,313.61 L676.65,313.23 L685.64,312.84 L694.63,312.45 L703.62,312.04 L712.61,311.63 L721.60,311.21 L730.59,310.78 L739.58,310.34 L748.57,309.90 L757.55,309.45 L766.54,308.98 L775.53,308.51 L784.51,308.04 L793.50,307.55 L802.48,307.06 L811.47,306.55 L820.45,306.04 L829.44,305.52 L838.42,305.00 L847.40,304.46 L856.38,303.92 L865.37,303.37 L874.35,302.81 L883.33,302.24 L892.31,301.66 L901.29,301.08 L910.27,300.49 L919.24,299.89 L928.22,299.28 L937.20,298.66 L946.18,298.03 L955.15,297.40 L964.13,296.76 L973.11,296.11 L982.08,295.45 L991.06,294.79 L1000.03,294.11 L1009.00,293.43 L1017.98,292.74 L1026.95,292.04 L1027.09,293.98 L1027.21,295.91 L1027.31,297.85 L1027.39,299.79 L1027.45,301.73 L1027.48,303.68 L1018.48,303.80 L1009.49,303.94 L1000.49,304.08 L991.49,304.24 L982.49,304.41 L973.50,304.58 L964.50,304.77 L955.50,304.97 L946.51,305.17 L937.51,305.39 L928.51,305.62 L919.52,305.86 L910.52,306.10 L901.53,306.36 L892.54,306.63 L883.54,306.90 L874.55,307.19 L865.56,307.49 L856.56,307.80 L847.57,308.11 L838.58,308.44 L829.59,308.78 L820.60,309.13 L811.61,309.49 L802.62,309.85 L793.63,310.23 L784.64,310.62 L775.65,311.02 L766.66,311.43 L757.67,311.84 L748.68,312.27 L739.69,312.71 L730.71,313.16 L721.72,313.62 L712.73,314.09 L703.75,314.57 L694.76,315.06 L685.78,315.55 L676.79,316.06 L667.81,316.58Z" fill="#b6e3fa" stroke="#000" stroke-width="0.95" stroke-linejoin="round"/>
<path d="M677.86,366.29 L686.35,363.31 L694.85,360.41 L703.36,357.58 L711.89,354.83 L720.43,352.14 L728.98,349.53 L737.55,346.99 L746.13,344.52 L754.72,342.13 L763.33,339.80 L771.94,337.55 L780.58,335.37 L789.22,333.27 L797.88,331.23 L806.54,329.27 L815.23,327.38 L823.92,325.56 L832.63,323.82 L841.35,322.14 L850.09,320.54 L858.83,319.01 L867.59,317.55 L876.37,316.17 L885.15,314.86 L893.95,313.62 L902.76,312.45 L911.59,311.35 L920.42,310.33 L929.27,309.38 L938.14,308.50 L947.01,307.69 L955.90,306.96 L964.81,306.29 L973.72,305.70 L982.65,305.18 L991.59,304.74 L1000.54,304.36 L1009.51,304.06 L1018.49,303.83 L1027.48,303.68 L1027.50,305.62 L1027.49,307.56 L1027.47,309.50 L1027.42,311.44 L1027.35,313.38 L1027.26,315.32 L1018.28,314.91 L1009.32,314.58 L1000.36,314.35 L991.42,314.20 L982.50,314.14 L973.59,314.18 L964.69,314.31 L955.80,314.52 L946.93,314.83 L938.08,315.22 L929.24,315.71 L920.41,316.29 L911.59,316.95 L902.79,317.71 L894.01,318.56 L885.24,319.50 L876.48,320.53 L867.73,321.64 L859.00,322.85 L850.29,324.15 L841.58,325.54 L832.89,327.02 L824.22,328.59 L815.56,330.25 L806.91,332.00 L798.28,333.84 L789.66,335.77 L781.05,337.79 L772.46,339.90 L763.89,342.10 L755.32,344.40 L746.77,346.78 L738.24,349.25 L729.72,351.81 L721.21,354.46 L712.71,357.21 L704.23,360.04 L695.77,362.96 L687.32,365.98 L678.88,369.08Z" fill="#b6e3fa" stroke="#000" stroke-width="0.95" stroke-linejoin="round"/>
<path d="M688.73,390.90 L696.68,386.72 L704.66,382.65 L712.66,378.71 L720.69,374.88 L728.75,371.17 L736.83,367.57 L744.94,364.10 L753.07,360.74 L761.24,357.50 L769.42,354.37 L777.64,351.37 L785.88,348.48 L794.15,345.71 L802.44,343.06 L810.76,340.52 L819.10,338.10 L827.47,335.80 L835.87,333.62 L844.30,331.55 L852.75,329.60 L861.22,327.77 L869.73,326.06 L878.26,324.47 L886.81,322.99 L895.39,321.63 L904.00,320.38 L912.63,319.26 L921.29,318.25 L929.98,317.36 L938.69,316.59 L947.43,315.93 L956.20,315.39 L964.99,314.97 L973.81,314.67 L982.65,314.49 L991.52,314.42 L1000.42,314.47 L1009.34,314.64 L1018.29,314.92 L1027.26,315.32 L1027.15,317.26 L1027.02,319.20 L1026.87,321.13 L1026.70,323.07 L1026.50,325.00 L1026.29,326.93 L1017.36,325.96 L1008.47,325.12 L999.59,324.41 L990.75,323.85 L981.93,323.41 L973.14,323.12 L964.37,322.95 L955.63,322.93 L946.92,323.04 L938.24,323.28 L929.58,323.66 L920.95,324.17 L912.34,324.82 L903.76,325.61 L895.21,326.53 L886.69,327.58 L878.19,328.78 L869.72,330.10 L861.28,331.56 L852.86,333.16 L844.47,334.89 L836.11,336.76 L827.77,338.76 L819.46,340.90 L811.18,343.17 L802.92,345.58 L794.69,348.13 L786.49,350.81 L778.31,353.62 L770.16,356.57 L762.04,359.66 L753.95,362.88 L745.88,366.23 L737.84,369.72 L729.82,373.35 L721.83,377.11 L713.87,381.01 L705.94,385.04 L698.03,389.21 L690.15,393.51Z" fill="#b6e3fa" stroke="#000" stroke-width="0.95" stroke-linejoin="round"/>
<path d="M701.38,411.21 L708.71,406.04 L716.07,401.02 L723.48,396.15 L730.93,391.45 L738.42,386.90 L745.95,382.51 L753.52,378.28 L761.13,374.21 L768.79,370.29 L776.48,366.53 L784.22,362.93 L791.99,359.48 L799.81,356.19 L807.67,353.06 L815.56,350.09 L823.50,347.27 L831.48,344.62 L839.50,342.11 L847.57,339.77 L855.67,337.59 L863.81,335.56 L871.99,333.69 L880.22,331.97 L888.49,330.42 L896.79,329.02 L905.14,327.78 L913.53,326.69 L921.96,325.77 L930.43,325.00 L938.94,324.39 L947.49,323.93 L956.08,323.64 L964.71,323.50 L973.39,323.51 L982.10,323.69 L990.86,324.02 L999.66,324.51 L1008.49,325.16 L1017.37,325.97 L1026.29,326.93 L1026.06,328.86 L1025.80,330.78 L1025.52,332.70 L1025.23,334.62 L1024.91,336.54 L1024.57,338.45 L1015.74,336.92 L1006.95,335.57 L998.20,334.39 L989.49,333.39 L980.83,332.57 L972.20,331.92 L963.62,331.45 L955.09,331.15 L946.59,331.03 L938.13,331.09 L929.72,331.33 L921.35,331.74 L913.02,332.32 L904.74,333.08 L896.49,334.02 L888.29,335.14 L880.13,336.43 L872.01,337.90 L863.93,339.54 L855.90,341.36 L847.91,343.36 L839.96,345.53 L832.05,347.88 L824.18,350.41 L816.36,353.11 L808.58,355.99 L800.83,359.05 L793.14,362.28 L785.48,365.68 L777.87,369.27 L770.29,373.03 L762.76,376.96 L755.27,381.08 L747.83,385.37 L740.42,389.83 L733.06,394.47 L725.74,399.29 L718.46,404.29 L711.23,409.46 L704.03,414.80Z" fill="#b6e3fa" stroke="#000" stroke-width="0.95" stroke-linejoin="round"/>
<path d="M764.08,465.60 L768.31,457.75 L772.66,450.13 L777.12,442.76 L781.70,435.62 L786.40,428.73 L791.21,422.07 L796.15,415.65 L801.20,409.48 L806.36,403.54 L811.64,397.84 L817.04,392.39 L822.56,387.17 L828.20,382.19 L833.95,377.45 L839.82,372.96 L845.80,368.70 L851.90,364.68 L858.12,360.90 L864.46,357.36 L870.91,354.06 L877.48,351.00 L884.17,348.19 L890.98,345.61 L897.90,343.27 L904.94,341.17 L912.09,339.31 L919.37,337.69 L926.76,336.31 L934.26,335.17 L941.89,334.27 L949.63,333.61 L957.49,333.18 L965.46,333.00 L973.56,333.06 L981.76,333.36 L990.09,333.90 L998.54,334.68 L1007.10,335.70 L1015.77,336.95 L1024.57,338.45 L1024.21,340.36 L1023.83,342.26 L1023.43,344.16 L1023.01,346.06 L1022.57,347.95 L1022.11,349.84 L1013.43,347.78 L1004.88,345.97 L996.44,344.43 L988.12,343.14 L979.92,342.10 L971.84,341.32 L963.87,340.79 L956.02,340.53 L948.28,340.51 L940.67,340.76 L933.17,341.25 L925.79,342.01 L918.52,343.02 L911.38,344.28 L904.35,345.81 L897.43,347.58 L890.64,349.62 L883.96,351.90 L877.40,354.45 L870.96,357.25 L864.63,360.31 L858.42,363.62 L852.33,367.18 L846.36,371.01 L840.50,375.09 L834.76,379.42 L829.14,384.01 L823.64,388.86 L818.25,393.96 L812.98,399.32 L807.83,404.93 L802.79,410.80 L797.87,416.93 L793.07,423.31 L788.39,429.94 L783.82,436.83 L779.37,443.98 L775.04,451.39 L770.83,459.05 L766.73,466.96Z" fill="#b6e3fa" stroke="#000" stroke-width="0.95" stroke-linejoin="round"/>
<path d="M811.88,482.54 L813.75,473.86 L815.79,465.45 L818.01,457.31 L820.39,449.45 L822.96,441.87 L825.69,434.56 L828.60,427.53 L831.69,420.77 L834.95,414.29 L838.38,408.08 L841.98,402.15 L845.76,396.49 L849.71,391.11 L853.84,386.00 L858.14,381.17 L862.61,376.62 L867.26,372.34 L872.08,368.33 L877.08,364.60 L882.25,361.14 L887.59,357.96 L893.11,355.06 L898.80,352.43 L904.66,350.08 L910.70,348.00 L916.91,346.19 L923.29,344.66 L929.85,343.41 L936.58,342.43 L943.49,341.73 L950.57,341.30 L957.82,341.15 L965.25,341.27 L972.85,341.67 L980.63,342.34 L988.57,343.29 L996.70,344.51 L1004.99,346.01 L1013.46,347.79 L1022.11,349.84 L1021.62,351.72 L1021.12,353.59 L1020.60,355.46 L1020.06,357.33 L1019.49,359.19 L1018.91,361.04 L1010.43,358.44 L1002.12,356.13 L993.99,354.10 L986.03,352.37 L978.25,350.93 L970.64,349.78 L963.21,348.92 L955.95,348.35 L948.87,348.07 L941.97,348.08 L935.24,348.38 L928.68,348.97 L922.30,349.86 L916.10,351.03 L910.07,352.49 L904.21,354.24 L898.53,356.28 L893.03,358.62 L887.70,361.24 L882.54,364.15 L877.57,367.36 L872.76,370.85 L868.13,374.63 L863.68,378.71 L859.40,383.07 L855.30,387.73 L851.37,392.67 L847.62,397.91 L844.05,403.43 L840.64,409.25 L837.42,415.35 L834.37,421.75 L831.49,428.44 L828.79,435.41 L826.27,442.68 L823.92,450.24 L821.74,458.09 L819.74,466.22 L817.92,474.65 L816.27,483.37Z" fill="#b6e3fa" stroke="#000" stroke-width="0.95" stroke-linejoin="round"/>
<path d="M841.55,486.00 L841.95,477.15 L842.56,468.60 L843.37,460.34 L844.39,452.37 L845.62,444.70 L847.06,437.32 L848.70,430.23 L850.55,423.43 L852.60,416.93 L854.87,410.73 L857.34,404.82 L860.01,399.20 L862.89,393.87 L865.98,388.84 L869.28,384.10 L872.78,379.65 L876.49,375.50 L880.41,371.65 L884.53,368.08 L888.87,364.81 L893.40,361.83 L898.15,359.15 L903.10,356.76 L908.26,354.66 L913.62,352.86 L919.19,351.35 L924.97,350.13 L930.96,349.21 L937.15,348.58 L943.55,348.25 L950.15,348.21 L956.96,348.46 L963.98,349.00 L971.21,349.84 L978.64,350.97 L986.28,352.40 L994.13,354.12 L1002.18,356.13 L1010.44,358.44 L1018.91,361.04 L1018.31,362.88 L1017.69,364.72 L1017.04,366.56 L1016.38,368.38 L1015.70,370.20 L1015.00,372.01 L1006.73,368.87 L998.66,366.03 L990.80,363.51 L983.14,361.29 L975.69,359.38 L968.45,357.77 L961.41,356.47 L954.58,355.48 L947.95,354.80 L941.53,354.42 L935.32,354.36 L929.31,354.59 L923.50,355.14 L917.90,355.99 L912.51,357.16 L907.32,358.62 L902.34,360.40 L897.57,362.48 L893.00,364.87 L888.63,367.57 L884.47,370.58 L880.52,373.89 L876.77,377.51 L873.23,381.44 L869.89,385.67 L866.76,390.21 L863.84,395.06 L861.12,400.22 L858.60,405.68 L856.29,411.46 L854.19,417.53 L852.30,423.92 L850.60,430.61 L849.12,437.62 L847.84,444.92 L846.76,452.54 L845.90,460.46 L845.23,468.69 L844.78,477.23 L844.52,486.08Z" fill="#b6e3fa" stroke="#000" stroke-width="0.95" stroke-linejoin="round"/>
<path d="M797.29,133.24 L799.87,141.83 L802.59,150.30 L805.44,158.66 L808.43,166.91 L811.56,175.04 L814.83,183.06 L818.23,190.97 L821.77,198.76 L825.45,206.44 L829.26,214.01 L833.22,221.47 L837.31,228.81 L841.53,236.04 L845.90,243.15 L850.40,250.15 L855.04,257.04 L859.82,263.82 L864.73,270.48 L869.78,277.03 L874.97,283.46 L880.29,289.78 L885.76,295.99 L891.36,302.09 L897.10,308.07 L902.97,313.94 L908.98,319.70 L915.13,325.34 L921.42,330.87 L927.85,336.29 L934.41,341.59 L941.11,346.78 L947.94,351.86 L954.92,356.82 L962.03,361.68 L969.28,366.41 L976.66,371.04 L984.19,375.55 L991.85,379.95 L999.65,384.23 L1007.58,388.40 L1006.66,390.17 L1005.72,391.93 L1004.76,393.67 L1003.78,395.41 L1002.79,397.13 L1001.77,398.84 L994.12,394.16 L986.59,389.37 L979.20,384.49 L971.93,379.50 L964.78,374.42 L957.77,369.24 L950.87,363.96 L944.11,358.58 L937.47,353.10 L930.96,347.52 L924.58,341.84 L918.32,336.06 L912.18,330.19 L906.18,324.21 L900.30,318.14 L894.55,311.97 L888.92,305.70 L883.42,299.32 L878.05,292.85 L872.80,286.28 L867.68,279.62 L862.69,272.85 L857.82,265.98 L853.08,259.02 L848.47,251.95 L843.98,244.79 L839.62,237.53 L835.39,230.17 L831.28,222.70 L827.30,215.14 L823.44,207.49 L819.71,199.73 L816.11,191.87 L812.64,183.91 L809.29,175.86 L806.07,167.70 L802.97,159.45 L800.00,151.10 L797.16,142.65 L794.44,134.10Z" fill="#fba6ac" stroke="#000" stroke-width="0.95" stroke-linejoin="round"/>
<path d="M749.82,154.91 L754.74,162.43 L759.73,169.88 L764.79,177.26 L769.92,184.56 L775.13,191.79 L780.40,198.95 L785.74,206.04 L791.16,213.05 L796.64,219.99 L802.20,226.85 L807.82,233.64 L813.52,240.36 L819.29,247.01 L825.13,253.58 L831.04,260.08 L837.02,266.51 L843.07,272.86 L849.19,279.14 L855.38,285.35 L861.65,291.49 L867.98,297.55 L874.39,303.54 L880.86,309.45 L887.41,315.30 L894.03,321.07 L900.71,326.76 L907.47,332.39 L914.30,337.94 L921.20,343.41 L928.17,348.82 L935.21,354.15 L942.32,359.41 L949.51,364.59 L956.76,369.70 L964.09,374.74 L971.48,379.71 L978.95,384.60 L986.48,389.42 L994.09,394.17 L1001.77,398.84 L1000.73,400.54 L999.68,402.23 L998.61,403.91 L997.51,405.58 L996.40,407.23 L995.28,408.87 L987.92,403.71 L980.61,398.48 L973.37,393.20 L966.18,387.86 L959.06,382.46 L951.99,377.01 L944.97,371.50 L938.02,365.93 L931.12,360.30 L924.29,354.61 L917.51,348.87 L910.78,343.07 L904.12,337.22 L897.51,331.30 L890.97,325.33 L884.48,319.30 L878.04,313.22 L871.67,307.07 L865.35,300.87 L859.09,294.61 L852.89,288.30 L846.75,281.92 L840.67,275.49 L834.64,269.00 L828.67,262.46 L822.76,255.85 L816.91,249.19 L811.11,242.48 L805.38,235.70 L799.70,228.87 L794.08,221.98 L788.52,215.03 L783.01,208.02 L777.57,200.96 L772.18,193.84 L766.85,186.66 L761.57,179.43 L756.36,172.13 L751.20,164.78 L746.10,157.38Z" fill="#fba6ac" stroke="#000" stroke-width="0.95" stroke-linejoin="round"/>
<path d="M727.27,172.14 L733.30,178.82 L739.36,185.46 L745.46,192.06 L751.59,198.62 L757.76,205.15 L763.96,211.63 L770.19,218.07 L776.46,224.48 L782.77,230.85 L789.10,237.17 L795.48,243.46 L801.89,249.71 L808.33,255.92 L814.80,262.09 L821.31,268.23 L827.86,274.32 L834.44,280.37 L841.05,286.39 L847.70,292.37 L854.39,298.30 L861.10,304.20 L867.85,310.06 L874.64,315.88 L881.46,321.67 L888.32,327.41 L895.21,333.11 L902.13,338.78 L909.09,344.40 L916.08,349.99 L923.11,355.54 L930.17,361.05 L937.27,366.52 L944.40,371.95 L951.56,377.34 L958.76,382.69 L966.00,388.01 L973.26,393.28 L980.57,398.52 L987.90,403.72 L995.28,408.87 L994.13,410.50 L992.97,412.12 L991.78,413.72 L990.58,415.31 L989.37,416.89 L988.13,418.45 L981.11,412.82 L974.11,407.17 L967.14,401.49 L960.19,395.78 L953.26,390.06 L946.35,384.30 L939.47,378.53 L932.61,372.73 L925.77,366.90 L918.95,361.05 L912.16,355.18 L905.39,349.28 L898.64,343.35 L891.92,337.40 L885.22,331.43 L878.54,325.43 L871.88,319.41 L865.25,313.37 L858.64,307.30 L852.05,301.20 L845.48,295.08 L838.94,288.94 L832.42,282.77 L825.93,276.57 L819.45,270.36 L813.00,264.11 L806.57,257.85 L800.17,251.56 L793.78,245.24 L787.42,238.90 L781.08,232.54 L774.77,226.15 L768.48,219.73 L762.21,213.29 L755.96,206.83 L749.74,200.34 L743.54,193.83 L737.36,187.30 L731.20,180.74 L725.07,174.15Z" fill="#fba6ac" stroke="#000" stroke-width="0.95" stroke-linejoin="round"/>
<path d="M709.60,190.42 L716.49,196.20 L723.39,201.98 L730.30,207.75 L737.20,213.52 L744.12,219.29 L751.03,225.05 L757.95,230.80 L764.87,236.56 L771.79,242.31 L778.72,248.05 L785.65,253.79 L792.58,259.53 L799.52,265.26 L806.46,270.99 L813.41,276.71 L820.36,282.43 L827.31,288.15 L834.26,293.86 L841.22,299.56 L848.18,305.27 L855.15,310.97 L862.12,316.66 L869.09,322.35 L876.06,328.04 L883.04,333.72 L890.02,339.40 L897.01,345.07 L904.00,350.74 L910.99,356.41 L917.99,362.07 L924.99,367.72 L931.99,373.38 L938.99,379.03 L946.00,384.67 L953.02,390.31 L960.03,395.95 L967.05,401.58 L974.08,407.21 L981.10,412.83 L988.13,418.45 L986.88,420.00 L985.61,421.54 L984.32,423.06 L983.02,424.56 L981.70,426.06 L980.37,427.53 L973.72,421.47 L967.06,415.41 L960.39,409.37 L953.72,403.34 L947.03,397.32 L940.33,391.31 L933.62,385.31 L926.91,379.33 L920.18,373.35 L913.44,367.39 L906.70,361.44 L899.94,355.50 L893.17,349.57 L886.40,343.66 L879.61,337.75 L872.82,331.86 L866.01,325.98 L859.19,320.11 L852.37,314.25 L845.53,308.40 L838.69,302.57 L831.83,296.74 L824.97,290.93 L818.10,285.13 L811.21,279.34 L804.32,273.56 L797.41,267.79 L790.50,262.04 L783.58,256.29 L776.64,250.56 L769.70,244.84 L762.75,239.13 L755.78,233.43 L748.81,227.75 L741.83,222.07 L734.84,216.41 L727.84,210.76 L720.82,205.12 L713.80,199.49 L706.77,193.87Z" fill="#fba6ac" stroke="#000" stroke-width="0.95" stroke-linejoin="round"/>
<path d="M693.90,212.26 L701.56,216.97 L709.20,221.71 L716.82,226.49 L724.41,231.31 L731.97,236.15 L739.51,241.03 L747.02,245.95 L754.51,250.90 L761.97,255.89 L769.40,260.91 L776.81,265.96 L784.19,271.05 L791.55,276.17 L798.88,281.33 L806.18,286.52 L813.46,291.75 L820.71,297.01 L827.94,302.30 L835.14,307.63 L842.32,313.00 L849.46,318.40 L856.59,323.83 L863.68,329.30 L870.76,334.80 L877.80,340.34 L884.82,345.91 L891.81,351.52 L898.78,357.16 L905.72,362.83 L912.64,368.54 L919.53,374.29 L926.39,380.06 L933.23,385.88 L940.04,391.72 L946.83,397.61 L953.59,403.52 L960.32,409.47 L967.03,415.46 L973.71,421.48 L980.37,427.53 L979.02,429.00 L977.65,430.44 L976.26,431.88 L974.86,433.29 L973.45,434.70 L972.02,436.08 L965.77,429.61 L959.49,423.18 L953.16,416.81 L946.80,410.48 L940.40,404.21 L933.96,397.99 L927.48,391.81 L920.96,385.69 L914.40,379.61 L907.80,373.59 L901.16,367.62 L894.48,361.69 L887.77,355.82 L881.01,349.99 L874.22,344.22 L867.39,338.49 L860.51,332.82 L853.60,327.19 L846.65,321.62 L839.66,316.10 L832.63,310.62 L825.56,305.20 L818.45,299.82 L811.30,294.50 L804.12,289.22 L796.89,284.00 L789.63,278.82 L782.32,273.70 L774.98,268.62 L767.60,263.60 L760.18,258.62 L752.71,253.70 L745.21,248.82 L737.68,244.00 L730.10,239.22 L722.48,234.50 L714.82,229.82 L707.13,225.20 L699.39,220.62 L691.62,216.10Z" fill="#fba6ac" stroke="#000" stroke-width="0.95" stroke-linejoin="round"/>
<path d="M681.05,237.58 L689.35,241.04 L697.59,244.58 L705.78,248.20 L713.92,251.90 L722.01,255.67 L730.04,259.52 L738.03,263.44 L745.95,267.44 L753.83,271.52 L761.66,275.68 L769.43,279.91 L777.15,284.22 L784.81,288.61 L792.43,293.07 L799.99,297.61 L807.50,302.23 L814.96,306.92 L822.36,311.69 L829.72,316.54 L837.02,321.46 L844.27,326.47 L851.46,331.54 L858.60,336.70 L865.70,341.93 L872.73,347.24 L879.72,352.62 L886.65,358.09 L893.53,363.62 L900.36,369.24 L907.14,374.93 L913.86,380.70 L920.53,386.55 L927.15,392.47 L933.72,398.47 L940.23,404.55 L946.70,410.70 L953.10,416.93 L959.46,423.24 L965.77,429.62 L972.02,436.08 L970.57,437.45 L969.11,438.81 L967.64,440.14 L966.15,441.46 L964.64,442.77 L963.12,444.06 L957.31,437.20 L951.43,430.44 L945.49,423.77 L939.48,417.19 L933.40,410.70 L927.27,404.29 L921.06,397.98 L914.79,391.76 L908.46,385.63 L902.06,379.59 L895.60,373.64 L889.07,367.78 L882.48,362.01 L875.82,356.33 L869.10,350.74 L862.31,345.24 L855.46,339.83 L848.54,334.52 L841.56,329.29 L834.52,324.15 L827.40,319.10 L820.23,314.14 L812.99,309.28 L805.68,304.50 L798.31,299.81 L790.87,295.22 L783.37,290.71 L775.80,286.29 L768.17,281.97 L760.48,277.73 L752.71,273.59 L744.89,269.53 L737.00,265.57 L729.04,261.69 L721.02,257.91 L712.93,254.21 L704.78,250.61 L696.57,247.10 L688.29,243.67 L679.94,240.34Z" fill="#fba6ac" stroke="#000" stroke-width="0.95" stroke-linejoin="round"/>
<path d="M667.81,316.58 L676.75,316.15 L685.61,315.90 L694.40,315.84 L703.10,315.97 L711.73,316.28 L720.27,316.78 L728.74,317.46 L737.12,318.33 L745.42,319.38 L753.65,320.62 L761.79,322.04 L769.86,323.65 L777.84,325.45 L785.74,327.43 L793.57,329.59 L801.31,331.95 L808.97,334.48 L816.56,337.21 L824.06,340.12 L831.48,343.21 L838.82,346.49 L846.09,349.95 L853.27,353.61 L860.37,357.44 L867.39,361.46 L874.34,365.67 L881.20,370.06 L887.98,374.64 L894.68,379.41 L901.31,384.36 L907.85,389.49 L914.31,394.81 L920.69,400.32 L926.99,406.01 L933.21,411.89 L939.36,417.95 L945.42,424.20 L951.40,430.63 L957.30,437.25 L963.12,444.06 L961.59,445.33 L960.04,446.58 L958.48,447.82 L956.90,449.04 L955.31,450.24 L953.71,451.42 L948.36,444.26 L942.91,437.29 L937.37,430.52 L931.74,423.95 L926.01,417.57 L920.20,411.40 L914.29,405.42 L908.30,399.64 L902.21,394.07 L896.03,388.68 L889.75,383.50 L883.39,378.52 L876.93,373.73 L870.39,369.15 L863.75,364.76 L857.02,360.57 L850.20,356.58 L843.28,352.78 L836.28,349.19 L829.18,345.79 L821.99,342.60 L814.71,339.60 L807.34,336.80 L799.88,334.19 L792.32,331.79 L784.67,329.59 L776.94,327.58 L769.11,325.77 L761.18,324.16 L753.17,322.75 L745.07,321.54 L736.87,320.52 L728.58,319.71 L720.20,319.09 L711.73,318.67 L703.17,318.45 L694.52,318.43 L685.77,318.60 L676.93,318.98 L668.00,319.55Z" fill="#fba6ac" stroke="#000" stroke-width="0.95" stroke-linejoin="round"/>
<path d="M678.88,369.08 L687.27,366.06 L695.58,363.30 L703.82,360.81 L711.98,358.57 L720.06,356.59 L728.06,354.87 L735.98,353.42 L743.83,352.22 L751.60,351.29 L759.29,350.61 L766.90,350.20 L774.43,350.04 L781.89,350.15 L789.27,350.51 L796.57,351.14 L803.79,352.03 L810.93,353.17 L818.00,354.58 L824.99,356.25 L831.90,358.18 L838.73,360.37 L845.48,362.81 L852.16,365.52 L858.76,368.49 L865.28,371.72 L871.72,375.21 L878.08,378.97 L884.37,382.98 L890.58,387.25 L896.71,391.78 L902.76,396.57 L908.73,401.63 L914.63,406.94 L920.44,412.51 L926.18,418.35 L931.85,424.44 L937.43,430.80 L942.94,437.41 L948.36,444.29 L953.71,451.42 L952.10,452.59 L950.47,453.74 L948.83,454.87 L947.18,455.98 L945.51,457.07 L943.84,458.15 L938.98,450.68 L934.03,443.49 L928.99,436.57 L923.86,429.92 L918.64,423.54 L913.33,417.44 L907.94,411.60 L902.45,406.04 L896.88,400.75 L891.22,395.74 L885.47,390.99 L879.63,386.52 L873.70,382.32 L867.68,378.40 L861.57,374.74 L855.37,371.36 L849.09,368.25 L842.71,365.41 L836.25,362.85 L829.70,360.55 L823.05,358.53 L816.32,356.78 L809.50,355.31 L802.59,354.10 L795.60,353.17 L788.51,352.51 L781.33,352.12 L774.07,352.01 L766.71,352.16 L759.27,352.59 L751.74,353.30 L744.12,354.27 L736.41,355.52 L728.61,357.03 L720.72,358.82 L712.74,360.89 L704.68,363.22 L696.52,365.83 L688.28,368.71 L679.94,371.86Z" fill="#fba6ac" stroke="#000" stroke-width="0.95" stroke-linejoin="round"/>
<path d="M690.15,393.51 L697.98,389.29 L705.73,385.37 L713.41,381.75 L721.01,378.42 L728.53,375.40 L735.98,372.68 L743.35,370.25 L750.65,368.12 L757.87,366.30 L765.01,364.77 L772.08,363.54 L779.07,362.62 L785.98,361.99 L792.82,361.66 L799.58,361.63 L806.27,361.90 L812.88,362.46 L819.41,363.33 L825.87,364.50 L832.25,365.97 L838.55,367.73 L844.78,369.80 L850.93,372.16 L857.01,374.82 L863.00,377.79 L868.93,381.05 L874.77,384.61 L880.54,388.47 L886.24,392.63 L891.86,397.09 L897.40,401.85 L902.86,406.91 L908.25,412.27 L913.56,417.92 L918.80,423.88 L923.96,430.13 L929.04,436.69 L934.05,443.54 L938.98,450.70 L943.84,458.15 L942.15,459.21 L940.45,460.24 L938.74,461.26 L937.02,462.26 L935.28,463.24 L933.54,464.21 L929.19,456.46 L924.76,449.02 L920.24,441.89 L915.63,435.07 L910.94,428.56 L906.15,422.36 L901.29,416.47 L896.33,410.89 L891.28,405.62 L886.15,400.66 L880.93,396.01 L875.63,391.67 L870.24,387.64 L864.76,383.92 L859.19,380.52 L853.53,377.42 L847.79,374.63 L841.96,372.15 L836.04,369.98 L830.04,368.13 L823.95,366.58 L817.77,365.34 L811.50,364.41 L805.15,363.80 L798.71,363.49 L792.18,363.49 L785.56,363.81 L778.86,364.43 L772.07,365.36 L765.19,366.61 L758.23,368.16 L751.18,370.02 L744.04,372.20 L736.81,374.68 L729.50,377.48 L722.09,380.58 L714.61,384.00 L707.03,387.72 L699.37,391.76 L691.62,396.10Z" fill="#fba6ac" stroke="#000" stroke-width="0.95" stroke-linejoin="round"/>
<path d="M704.03,414.80 L711.17,409.54 L718.23,404.60 L725.23,400.00 L732.15,395.73 L739.00,391.80 L745.78,388.20 L752.49,384.93 L759.12,381.99 L765.68,379.39 L772.18,377.13 L778.60,375.19 L784.94,373.59 L791.22,372.33 L797.42,371.40 L803.56,370.80 L809.62,370.53 L815.61,370.60 L821.52,371.00 L827.37,371.73 L833.14,372.80 L838.84,374.20 L844.47,375.94 L850.03,378.01 L855.52,380.41 L860.93,383.15 L866.28,386.22 L871.55,389.62 L876.75,393.36 L881.87,397.43 L886.93,401.83 L891.91,406.57 L896.83,411.64 L901.67,417.04 L906.43,422.78 L911.13,428.85 L915.76,435.25 L920.31,441.99 L924.79,449.06 L929.20,456.47 L933.54,464.21 L931.78,465.15 L930.02,466.07 L928.24,466.97 L926.46,467.86 L924.66,468.72 L922.86,469.57 L919.05,461.56 L915.16,453.91 L911.19,446.60 L907.13,439.63 L903.00,433.01 L898.78,426.73 L894.48,420.80 L890.10,415.21 L885.64,409.96 L881.09,405.06 L876.47,400.51 L871.76,396.30 L866.97,392.43 L862.10,388.91 L857.15,385.74 L852.11,382.90 L847.00,380.42 L841.80,378.27 L836.52,376.48 L831.16,375.02 L825.71,373.91 L820.19,373.15 L814.58,372.73 L808.89,372.66 L803.12,372.93 L797.27,373.54 L791.34,374.50 L785.32,375.80 L779.23,377.45 L773.05,379.44 L766.79,381.78 L760.45,384.46 L754.02,387.49 L747.52,390.86 L740.93,394.58 L734.26,398.64 L727.51,403.04 L720.68,407.79 L713.77,412.89 L706.77,418.33Z" fill="#fba6ac" stroke="#000" stroke-width="0.95" stroke-linejoin="round"/>
<path d="M738.85,449.61 L744.27,442.63 L749.63,436.03 L754.96,429.81 L760.25,423.98 L765.50,418.53 L770.70,413.47 L775.86,408.78 L780.98,404.49 L786.06,400.57 L791.10,397.04 L796.09,393.90 L801.05,391.13 L805.96,388.75 L810.83,386.76 L815.66,385.15 L820.44,383.92 L825.19,383.07 L829.89,382.61 L834.56,382.54 L839.18,382.84 L843.76,383.54 L848.30,384.61 L852.79,386.07 L857.25,387.91 L861.66,390.14 L866.03,392.74 L870.36,395.74 L874.65,399.11 L878.89,402.87 L883.10,407.02 L887.26,411.55 L891.38,416.46 L895.46,421.75 L899.50,427.43 L903.50,433.50 L907.45,439.94 L911.37,446.77 L915.24,453.99 L919.07,461.58 L922.86,469.57 L921.05,470.39 L919.22,471.19 L917.39,471.98 L915.55,472.74 L913.70,473.48 L911.85,474.21 L908.61,466.00 L905.32,458.19 L901.99,450.77 L898.61,443.75 L895.18,437.13 L891.71,430.90 L888.19,425.07 L884.63,419.64 L881.02,414.60 L877.36,409.95 L873.65,405.71 L869.90,401.86 L866.11,398.40 L862.27,395.34 L858.38,392.68 L854.44,390.41 L850.46,388.54 L846.43,387.07 L842.36,385.99 L838.24,385.31 L834.07,385.02 L829.86,385.13 L825.60,385.64 L821.29,386.54 L816.94,387.83 L812.54,389.53 L808.10,391.62 L803.61,394.10 L799.07,396.99 L794.49,400.26 L789.86,403.94 L785.18,408.01 L780.46,412.47 L775.69,417.33 L770.87,422.59 L766.01,428.25 L761.10,434.30 L756.15,440.74 L751.15,447.58 L746.10,454.82Z" fill="#fba6ac" stroke="#000" stroke-width="0.95" stroke-linejoin="round"/>
<path d="M766.73,466.96 L770.76,459.12 L774.77,451.70 L778.75,444.68 L782.72,438.08 L786.67,431.89 L790.59,426.10 L794.50,420.73 L798.38,415.78 L802.25,411.23 L806.09,407.09 L809.91,403.37 L813.71,400.05 L817.50,397.15 L821.26,394.66 L825.00,392.58 L828.72,390.91 L832.42,389.65 L836.10,388.80 L839.76,388.37 L843.39,388.34 L847.01,388.73 L850.61,389.53 L854.19,390.74 L857.74,392.36 L861.28,394.39 L864.79,396.83 L868.29,399.68 L871.76,402.95 L875.21,406.63 L878.65,410.71 L882.06,415.21 L885.45,420.12 L888.82,425.44 L892.17,431.18 L895.50,437.32 L898.81,443.87 L902.10,450.84 L905.37,458.22 L908.62,466.01 L911.85,474.21 L909.98,474.91 L908.11,475.59 L906.23,476.25 L904.35,476.89 L902.45,477.51 L900.55,478.10 L897.88,469.71 L895.18,461.74 L892.45,454.18 L889.69,447.05 L886.90,440.32 L884.07,434.02 L881.22,428.14 L878.33,422.67 L875.41,417.62 L872.46,412.99 L869.48,408.77 L866.47,404.98 L863.42,401.60 L860.35,398.64 L857.24,396.09 L854.10,393.97 L850.93,392.26 L847.73,390.97 L844.50,390.10 L841.24,389.64 L837.94,389.61 L834.62,389.99 L831.26,390.79 L827.87,392.00 L824.45,393.64 L821.00,395.69 L817.52,398.16 L814.01,401.05 L810.46,404.35 L806.89,408.07 L803.28,412.21 L799.64,416.77 L795.97,421.75 L792.27,427.14 L788.53,432.95 L784.77,439.18 L780.97,445.83 L777.15,452.89 L773.29,460.37 L769.40,468.27Z" fill="#fba6ac" stroke="#000" stroke-width="0.95" stroke-linejoin="round"/>
<path d="M790.20,476.73 L793.06,468.42 L795.92,460.53 L798.77,453.07 L801.61,446.03 L804.45,439.43 L807.29,433.25 L810.12,427.51 L812.95,422.19 L815.77,417.30 L818.58,412.83 L821.39,408.80 L824.20,405.19 L826.99,402.01 L829.79,399.26 L832.58,396.94 L835.36,395.05 L838.14,393.58 L840.91,392.55 L843.68,391.94 L846.44,391.76 L849.19,392.01 L851.94,392.68 L854.69,393.79 L857.43,395.32 L860.17,397.28 L862.89,399.67 L865.62,402.49 L868.34,405.74 L871.05,409.41 L873.76,413.52 L876.46,418.05 L879.16,423.01 L881.85,428.40 L884.54,434.21 L887.22,440.46 L889.90,447.13 L892.57,454.23 L895.24,461.76 L897.90,469.72 L900.55,478.10 L898.65,478.68 L896.73,479.24 L894.81,479.77 L892.89,480.28 L890.96,480.77 L889.02,481.24 L886.94,472.70 L884.84,464.60 L882.73,456.93 L880.60,449.69 L878.46,442.88 L876.31,436.51 L874.14,430.58 L871.95,425.07 L869.75,420.00 L867.54,415.37 L865.31,411.17 L863.07,407.40 L860.82,404.07 L858.54,401.17 L856.26,398.70 L853.96,396.67 L851.65,395.08 L849.32,393.91 L846.97,393.18 L844.62,392.89 L842.25,393.03 L839.86,393.60 L837.46,394.60 L835.04,396.04 L832.61,397.92 L830.17,400.23 L827.71,402.97 L825.24,406.14 L822.75,409.75 L820.25,413.80 L817.74,418.28 L815.21,423.19 L812.66,428.53 L810.10,434.31 L807.53,440.53 L804.94,447.17 L802.34,454.26 L799.72,461.77 L797.09,469.72 L794.44,478.10Z" fill="#fba6ac" stroke="#000" stroke-width="0.95" stroke-linejoin="round"/>
<path d="M816.27,483.37 L817.84,474.73 L819.42,466.52 L821.01,458.76 L822.62,451.44 L824.24,444.56 L825.87,438.12 L827.51,432.12 L829.17,426.56 L830.84,421.44 L832.53,416.76 L834.22,412.52 L835.93,408.73 L837.66,405.37 L839.39,402.45 L841.14,399.98 L842.90,397.94 L844.67,396.35 L846.46,395.19 L848.26,394.48 L850.07,394.20 L851.90,394.37 L853.74,394.98 L855.59,396.03 L857.45,397.52 L859.33,399.44 L861.22,401.81 L863.12,404.62 L865.04,407.88 L866.96,411.57 L868.91,415.70 L870.86,420.27 L872.83,425.28 L874.81,430.74 L876.80,436.63 L878.80,442.97 L880.82,449.74 L882.85,456.96 L884.90,464.61 L886.95,472.71 L889.02,481.24 L887.08,481.69 L885.14,482.12 L883.19,482.53 L881.23,482.91 L879.28,483.27 L877.31,483.61 L875.82,474.96 L874.34,466.75 L872.86,458.99 L871.38,451.67 L869.91,444.79 L868.44,438.36 L866.97,432.37 L865.51,426.83 L864.05,421.73 L862.59,417.08 L861.14,412.87 L859.69,409.10 L858.25,405.78 L856.81,402.90 L855.37,400.47 L853.94,398.48 L852.51,396.94 L851.09,395.84 L849.66,395.19 L848.25,394.98 L846.83,395.21 L845.42,395.89 L844.02,397.01 L842.61,398.58 L841.21,400.59 L839.82,403.05 L838.43,405.95 L837.04,409.29 L835.65,413.08 L834.27,417.31 L832.90,421.99 L831.52,427.11 L830.15,432.68 L828.79,438.69 L827.43,445.15 L826.07,452.05 L824.71,459.39 L823.36,467.18 L822.02,475.41 L820.67,484.09Z" fill="#fba6ac" stroke="#000" stroke-width="0.95" stroke-linejoin="round"/>
<path d="M844.52,486.08 L844.69,477.30 L844.89,468.97 L845.12,461.09 L845.39,453.66 L845.69,446.67 L846.02,440.13 L846.39,434.03 L846.79,428.38 L847.22,423.18 L847.69,418.43 L848.19,414.12 L848.72,410.26 L849.29,406.85 L849.89,403.89 L850.53,401.37 L851.20,399.29 L851.90,397.67 L852.64,396.49 L853.41,395.76 L854.21,395.47 L855.05,395.63 L855.92,396.24 L856.82,397.30 L857.76,398.80 L858.73,400.75 L859.73,403.15 L860.77,405.99 L861.84,409.28 L862.95,413.02 L864.08,417.20 L865.26,421.83 L866.46,426.91 L867.70,432.43 L868.97,438.40 L870.28,444.82 L871.62,451.69 L872.99,459.00 L874.40,466.76 L875.84,474.96 L877.31,483.61 L875.35,483.93 L873.38,484.23 L871.40,484.51 L869.43,484.76 L867.45,484.99 L865.47,485.20 L864.58,476.47 L863.72,468.19 L862.88,460.36 L862.06,452.97 L861.26,446.04 L860.48,439.55 L859.73,433.51 L859.00,427.92 L858.29,422.78 L857.61,418.09 L856.95,413.85 L856.31,410.06 L855.69,406.72 L855.09,403.82 L854.52,401.37 L853.97,399.38 L853.44,397.83 L852.94,396.73 L852.45,396.08 L851.99,395.88 L851.55,396.12 L851.14,396.82 L850.75,397.96 L850.38,399.56 L850.03,401.60 L849.70,404.09 L849.40,407.03 L849.12,410.42 L848.86,414.26 L848.62,418.54 L848.41,423.28 L848.22,428.46 L848.05,434.10 L847.90,440.18 L847.78,446.71 L847.68,453.69 L847.60,461.12 L847.54,469.00 L847.51,477.32 L847.50,486.10Z" fill="#fba6ac" stroke="#000" stroke-width="0.95" stroke-linejoin="round"/>
<path d="M847.50,126.10 L850.71,126.13 L853.91,126.21 L857.12,126.36 L860.32,126.56 L863.51,126.81 L866.70,127.13 L869.89,127.50 L873.07,127.93 L876.24,128.41 L879.40,128.95 L882.55,129.55 L885.69,130.20 L888.82,130.91 L891.93,131.67 L895.03,132.49 L898.12,133.36 L901.19,134.29 L904.24,135.28 L907.27,136.31 L910.29,137.41 L913.28,138.55 L916.26,139.75 L919.21,141.00 L922.14,142.31 L925.05,143.66 L927.93,145.07 L930.79,146.53 L933.61,148.04 L936.42,149.60 L939.19,151.20 L941.94,152.86 L944.65,154.57 L947.34,156.32 L949.99,158.13 L952.61,159.98 L955.19,161.87 L957.75,163.81 L960.26,165.80 L962.75,167.83 L965.19,169.91 L967.60,172.02 L969.97,174.18 L972.30,176.39 L974.59,178.63 L976.84,180.92 L979.05,183.24 L981.22,185.60 L983.34,188.00 L985.43,190.44 L987.46,192.92 L989.46,195.43 L991.41,197.98 L993.31,200.56 L995.17,203.17 L996.98,205.82 L998.74,208.50 L1000.46,211.21 L1002.12,213.95 L1003.74,216.72 L1005.31,219.51 L1021.09,210.86 L1019.36,207.78 L1017.58,204.73 L1015.75,201.72 L1013.86,198.74 L1011.93,195.79 L1009.93,192.88 L1007.89,190.00 L1005.80,187.16 L1003.65,184.36 L1001.46,181.60 L999.22,178.88 L996.93,176.19 L994.59,173.55 L992.20,170.95 L989.77,168.40 L987.30,165.88 L984.78,163.42 L982.21,160.99 L979.61,158.62 L976.96,156.29 L974.27,154.00 L971.54,151.77 L968.77,149.58 L965.96,147.45 L963.12,145.36 L960.24,143.33 L957.32,141.35 L954.37,139.42 L951.38,137.54 L948.36,135.71 L945.31,133.94 L942.23,132.23 L939.11,130.57 L935.97,128.97 L932.80,127.42 L929.61,125.93 L926.38,124.49 L923.13,123.12 L919.86,121.80 L916.57,120.54 L913.25,119.34 L909.91,118.19 L906.56,117.11 L903.18,116.09 L899.79,115.13 L896.38,114.23 L892.95,113.39 L889.51,112.61 L886.06,111.89 L882.59,111.23 L879.11,110.64 L875.63,110.11 L872.13,109.64 L868.63,109.23 L865.11,108.89 L861.60,108.60 L858.08,108.38 L854.55,108.23 L851.03,108.13 L847.50,108.10Z" fill="#fed46c" stroke="#000" stroke-width="0.9"/>
<path d="M1013.16,235.70 L1014.06,237.85 L1014.93,240.01 L1015.77,242.19 L1016.58,244.37 L1017.37,246.56 L1018.13,248.77 L1018.85,250.98 L1019.55,253.20 L1020.22,255.44 L1020.86,257.68 L1021.48,259.92 L1022.06,262.18 L1022.61,264.44 L1023.14,266.71 L1023.63,268.99 L1024.10,271.27 L1024.53,273.56 L1024.94,275.86 L1025.32,278.16 L1025.66,280.46 L1025.98,282.77 L1026.27,285.08 L1026.53,287.40 L1026.75,289.72 L1026.95,292.04 L1027.12,294.36 L1027.25,296.69 L1027.36,299.02 L1027.44,301.35 L1027.48,303.68 L1027.50,306.01 L1027.49,308.34 L1027.44,310.67 L1027.37,312.99 L1027.26,315.32 L1027.13,317.65 L1026.96,319.97 L1026.77,322.29 L1026.55,324.61 L1026.29,326.93 L1026.01,329.24 L1025.69,331.55 L1025.35,333.86 L1024.97,336.16 L1024.57,338.45 L1024.14,340.74 L1023.67,343.02 L1023.18,345.30 L1022.66,347.57 L1022.11,349.84 L1021.52,352.09 L1020.91,354.34 L1020.28,356.58 L1019.61,358.82 L1018.91,361.04 L1018.19,363.25 L1017.43,365.46 L1016.65,367.65 L1015.84,369.84 L1015.00,372.01 L1031.75,378.60 L1032.67,376.21 L1033.56,373.81 L1034.42,371.39 L1035.25,368.97 L1036.05,366.53 L1036.82,364.09 L1037.55,361.63 L1038.26,359.17 L1038.93,356.69 L1039.57,354.21 L1040.17,351.72 L1040.75,349.22 L1041.29,346.72 L1041.80,344.20 L1042.28,341.69 L1042.72,339.16 L1043.13,336.63 L1043.51,334.10 L1043.86,331.56 L1044.17,329.01 L1044.45,326.47 L1044.70,323.91 L1044.91,321.36 L1045.09,318.80 L1045.24,316.24 L1045.35,313.68 L1045.44,311.12 L1045.48,308.56 L1045.50,306.00 L1045.48,303.43 L1045.43,300.87 L1045.35,298.31 L1045.23,295.75 L1045.08,293.19 L1044.89,290.63 L1044.68,288.08 L1044.43,285.53 L1044.15,282.98 L1043.83,280.44 L1043.48,277.90 L1043.10,275.36 L1042.69,272.83 L1042.24,270.31 L1041.76,267.79 L1041.25,265.28 L1040.70,262.78 L1040.12,260.28 L1039.52,257.79 L1038.87,255.31 L1038.20,252.83 L1037.50,250.37 L1036.76,247.91 L1035.99,245.47 L1035.19,243.03 L1034.36,240.61 L1033.49,238.20 L1032.60,235.79 L1031.67,233.40 L1030.72,231.03 L1029.73,228.66Z" fill="#b6e3fa" stroke="#000" stroke-width="0.9"/>
<path d="M1007.58,388.40 L1006.19,391.05 L1004.76,393.67 L1003.29,396.27 L1001.77,398.84 L1000.21,401.39 L998.61,403.91 L996.96,406.41 L995.28,408.87 L993.55,411.31 L991.78,413.72 L989.98,416.10 L988.13,418.45 L986.25,420.77 L984.32,423.06 L982.36,425.31 L980.37,427.53 L978.33,429.72 L976.26,431.88 L974.16,434.00 L972.02,436.08 L969.84,438.13 L967.64,440.14 L965.39,442.12 L963.12,444.06 L960.81,445.96 L958.48,447.82 L956.11,449.64 L953.71,451.42 L951.29,453.17 L948.83,454.87 L946.35,456.53 L943.84,458.15 L941.30,459.73 L938.74,461.26 L936.15,462.76 L933.54,464.21 L930.90,465.61 L928.24,466.97 L925.56,468.29 L922.86,469.57 L920.14,470.79 L917.39,471.98 L914.63,473.11 L911.85,474.21 L909.05,475.25 L906.23,476.25 L903.40,477.20 L900.55,478.10 L897.69,478.96 L894.81,479.77 L891.93,480.53 L889.02,481.24 L886.11,481.91 L883.19,482.53 L880.26,483.09 L877.31,483.61 L874.36,484.08 L871.40,484.51 L868.44,484.88 L865.47,485.20 L867.27,503.11 L870.53,502.76 L873.80,502.35 L877.05,501.88 L880.29,501.37 L883.53,500.79 L886.76,500.17 L889.97,499.49 L893.18,498.76 L896.37,497.97 L899.55,497.14 L902.71,496.25 L905.86,495.30 L908.99,494.31 L912.11,493.26 L915.20,492.17 L918.28,491.02 L921.34,489.82 L924.38,488.56 L927.40,487.26 L930.39,485.91 L933.37,484.51 L936.32,483.06 L939.24,481.56 L942.14,480.02 L945.02,478.42 L947.86,476.78 L950.68,475.09 L953.47,473.35 L956.23,471.57 L958.96,469.75 L961.67,467.87 L964.33,465.96 L966.97,463.99 L969.58,461.99 L972.15,459.94 L974.68,457.85 L977.18,455.72 L979.65,453.55 L982.08,451.33 L984.47,449.08 L986.82,446.79 L989.14,444.45 L991.42,442.08 L993.65,439.68 L995.85,437.23 L998.01,434.75 L1000.12,432.24 L1002.19,429.69 L1004.22,427.10 L1006.21,424.48 L1008.15,421.83 L1010.05,419.15 L1011.91,416.44 L1013.72,413.69 L1015.48,410.92 L1017.20,408.12 L1018.87,405.29 L1020.49,402.43 L1022.06,399.54 L1023.59,396.63Z" fill="#fba6ac" stroke="#000" stroke-width="0.9"/>
<path d="M828.63,118.04 L826.30,118.29 L823.97,118.57 L821.65,118.88 L819.33,119.21 L817.84,109.32 L820.28,108.97 L822.73,108.65 L825.18,108.36 L827.63,108.09Z" fill="#1d8585" stroke="#000" stroke-width="0.8"/>
<text x="821.92" y="102.20" font-size="16.10" text-anchor="end" dy="0.35em" transform="rotate(90.00 821.92 102.20)" class="f">RPL27B</text>
<path d="M800.81,122.96 L798.55,123.55 L796.29,124.17 L794.03,124.82 L791.79,125.50 L788.84,115.94 L791.21,115.23 L793.58,114.54 L795.96,113.89 L798.34,113.27Z" fill="#1b9b9b" stroke="#000" stroke-width="0.8"/>
<text x="791.82" y="108.29" font-size="16.07" text-anchor="end" dy="0.35em" transform="rotate(81.00 791.82 108.29)" class="f">RPS9A</text>
<path d="M774.04,131.96 L771.89,132.88 L769.74,133.84 L767.61,134.81 L765.50,135.82 L761.16,126.81 L763.39,125.75 L765.63,124.72 L767.88,123.72 L770.15,122.75Z" fill="#1fa6a6" stroke="#000" stroke-width="0.8"/>
<text x="762.96" y="118.80" font-size="16.00" text-anchor="end" dy="0.35em" transform="rotate(72.00 762.96 118.80)" class="f">GUS1</text>
<path d="M748.91,144.85 L746.91,146.09 L744.94,147.35 L742.98,148.63 L741.03,149.94 L735.40,141.68 L737.45,140.30 L739.51,138.95 L741.59,137.62 L743.69,136.32Z" fill="#1ea3a3" stroke="#000" stroke-width="0.8"/>
<text x="735.98" y="133.49" font-size="15.87" text-anchor="end" dy="0.35em" transform="rotate(63.00 735.98 133.49)" class="f">TIF3</text>
<path d="M725.97,161.35 L724.19,162.87 L722.42,164.41 L720.68,165.97 L718.95,167.55 L712.15,160.22 L713.96,158.56 L715.80,156.91 L717.66,155.29 L719.54,153.69Z" fill="#13dddd" stroke="#000" stroke-width="0.8"/>
<text x="711.50" y="152.04" font-size="15.70" text-anchor="end" dy="0.35em" transform="rotate(54.00 711.50 152.04)" class="f">RPS23A</text>
<path d="M705.76,181.08 L704.22,182.85 L702.70,184.63 L701.21,186.44 L699.73,188.26 L691.92,182.03 L693.47,180.11 L695.04,178.21 L696.64,176.33 L698.26,174.46Z" fill="#12dfdf" stroke="#000" stroke-width="0.8"/>
<text x="690.06" y="174.03" font-size="15.48" text-anchor="end" dy="0.35em" transform="rotate(45.00 690.06 174.03)" class="f">DBP3</text>
<path d="M688.71,203.60 L687.45,205.58 L686.21,207.57 L685.01,209.58 L683.82,211.60 L675.16,206.60 L676.41,204.47 L677.68,202.36 L678.98,200.26 L680.31,198.18Z" fill="#10e3e3" stroke="#000" stroke-width="0.8"/>
<text x="672.13" y="198.97" font-size="15.23" text-anchor="end" dy="0.35em" transform="rotate(36.00 672.13 198.97)" class="f">TSR2</text>
<path d="M675.20,228.41 L674.25,230.56 L673.33,232.71 L672.43,234.87 L671.56,237.05 L662.26,233.40 L663.17,231.11 L664.12,228.83 L665.09,226.56 L666.09,224.30Z" fill="#0ce8e8" stroke="#000" stroke-width="0.8"/>
<text x="658.13" y="226.30" font-size="14.95" text-anchor="end" dy="0.35em" transform="rotate(27.00 658.13 226.30)" class="f">RPL3</text>
<path d="M665.55,254.96 L664.93,257.22 L664.34,259.49 L663.77,261.76 L663.24,264.04 L653.49,261.82 L654.05,259.42 L654.65,257.02 L655.27,254.63 L655.92,252.25Z" fill="#00eded" stroke="#000" stroke-width="0.8"/>
<text x="648.35" y="255.42" font-size="14.65" text-anchor="end" dy="0.35em" transform="rotate(18.00 648.35 255.42)" class="f">ETT1</text>
<path d="M659.96,282.65 L659.68,284.98 L659.44,287.31 L659.22,289.64 L659.03,291.98 L649.06,291.23 L649.26,288.77 L649.49,286.31 L649.75,283.86 L650.04,281.41Z" fill="#00eded" stroke="#000" stroke-width="0.8"/>
<text x="643.02" y="285.67" font-size="14.33" text-anchor="end" dy="0.35em" transform="rotate(9.00 643.02 285.67)" class="f">RPL16A</text>
<path d="M658.56,310.86 L658.63,313.20 L658.74,315.55 L658.87,317.89 L659.03,320.22 L649.06,320.97 L648.89,318.51 L648.75,316.05 L648.64,313.58 L648.56,311.11Z" fill="#00eded" stroke="#000" stroke-width="0.8"/>
<text x="642.26" y="316.37" font-size="14.00" text-anchor="end" dy="0.35em" transform="rotate(0.00 642.26 316.37)" class="f">RPL37B</text>
<path d="M661.38,338.97 L661.80,341.27 L662.25,343.57 L662.73,345.87 L663.24,348.16 L653.49,350.38 L652.96,347.97 L652.45,345.56 L651.98,343.14 L651.53,340.71Z" fill="#00eded" stroke="#000" stroke-width="0.8"/>
<text x="646.08" y="346.85" font-size="14.33" text-anchor="end" dy="0.35em" transform="rotate(-9.00 646.08 346.85)" class="f">ARC1</text>
<path d="M668.36,366.34 L669.12,368.56 L669.91,370.77 L670.72,372.96 L671.56,375.15 L662.26,378.80 L661.37,376.50 L660.51,374.19 L659.68,371.86 L658.88,369.53Z" fill="#00eded" stroke="#000" stroke-width="0.8"/>
<text x="654.40" y="376.41" font-size="14.65" text-anchor="end" dy="0.35em" transform="rotate(-18.00 654.40 376.41)" class="f">RPL8B</text>
<path d="M679.34,392.37 L680.42,394.45 L681.53,396.51 L682.66,398.56 L683.82,400.60 L675.16,405.60 L673.94,403.46 L672.75,401.30 L671.58,399.12 L670.44,396.93Z" fill="#00eded" stroke="#000" stroke-width="0.8"/>
<text x="667.04" y="404.41" font-size="14.95" text-anchor="end" dy="0.35em" transform="rotate(-27.00 667.04 404.41)" class="f">RPL7A</text>
<path d="M694.07,416.47 L695.45,418.36 L696.86,420.24 L698.28,422.10 L699.73,423.94 L691.92,430.17 L690.39,428.24 L688.89,426.28 L687.41,424.30 L685.96,422.31Z" fill="#00eded" stroke="#000" stroke-width="0.8"/>
<text x="683.71" y="430.20" font-size="15.23" text-anchor="end" dy="0.35em" transform="rotate(-36.00 683.71 430.20)" class="f">RRP1</text>
<path d="M712.24,438.10 L713.88,439.77 L715.55,441.42 L717.24,443.04 L718.95,444.65 L712.15,451.98 L710.35,450.29 L708.57,448.58 L706.81,446.84 L705.08,445.09Z" fill="#00eded" stroke="#000" stroke-width="0.8"/>
<text x="704.03" y="453.23" font-size="15.48" text-anchor="end" dy="0.35em" transform="rotate(-45.00 704.03 453.23)" class="f">RPL13B</text>
<path d="M733.42,456.79 L735.30,458.19 L737.19,459.57 L739.10,460.93 L741.03,462.26 L735.40,470.52 L733.37,469.12 L731.36,467.69 L729.36,466.24 L727.39,464.76Z" fill="#00eded" stroke="#000" stroke-width="0.8"/>
<text x="727.56" y="472.97" font-size="15.70" text-anchor="end" dy="0.35em" transform="rotate(-54.00 727.56 472.97)" class="f">RPC19</text>
<path d="M757.15,472.11 L759.22,473.22 L761.30,474.30 L763.39,475.35 L765.50,476.38 L761.16,485.39 L758.94,484.31 L756.74,483.20 L754.55,482.06 L752.37,480.89Z" fill="#00eded" stroke="#000" stroke-width="0.8"/>
<text x="753.77" y="488.98" font-size="15.87" text-anchor="end" dy="0.35em" transform="rotate(-63.00 753.77 488.98)" class="f">ZUO1</text>
<path d="M782.91,483.72 L785.11,484.51 L787.33,485.27 L789.56,486.00 L791.79,486.70 L788.84,496.26 L786.49,495.52 L784.15,494.75 L781.81,493.95 L779.49,493.12Z" fill="#00eded" stroke="#000" stroke-width="0.8"/>
<text x="782.08" y="500.91" font-size="16.00" text-anchor="end" dy="0.35em" transform="rotate(-72.00 782.08 500.91)" class="f">SUI3</text>
<path d="M810.10,491.36 L812.40,491.81 L814.71,492.23 L817.02,492.63 L819.33,492.99 L817.84,502.88 L815.40,502.49 L812.97,502.08 L810.54,501.64 L808.12,501.16Z" fill="#00eded" stroke="#000" stroke-width="0.8"/>
<text x="811.84" y="508.48" font-size="16.07" text-anchor="end" dy="0.35em" transform="rotate(-81.00 811.84 508.48)" class="f">NSR1</text>
<path d="M838.13,494.87 L840.47,494.97 L842.81,495.04 L845.16,495.09 L847.50,495.10 L847.50,505.10 L845.03,505.08 L842.57,505.04 L840.10,504.96 L837.63,504.86Z" fill="#00eded" stroke="#000" stroke-width="0.8"/>
<text x="842.40" y="511.54" font-size="16.10" text-anchor="end" dy="0.35em" transform="rotate(-90.00 842.40 511.54)" class="f">RPL37A</text>
<text x="965.5" y="132.5" font-size="20.3" text-anchor="middle" transform="rotate(32.5 965.5 132.5)" class="f">Translation</text>
<text x="1074.5" y="302" font-size="23.2" text-anchor="middle" transform="rotate(-90 1074.5 302)" class="f">rRNA processing</text>
<text x="977.5" y="490" font-size="21" text-anchor="middle" transform="rotate(-35 977.5 490)" class="f">Ribonucleoprotein</text>
<text x="995.2" y="508.9" font-size="21" text-anchor="middle" transform="rotate(-35 995.2 508.9)" class="f">complex biogenesis</text>
</g>
<g id="pc">
<line x1="123.8" y1="1094.0" x2="123.8" y2="658.9499999999999" stroke="#000" stroke-width="1.9"/>
<line x1="111.3" y1="1093.30" x2="123.8" y2="1093.30" stroke="#000" stroke-width="1.9"/>
<text x="0" y="0" font-size="24" text-anchor="end" transform="translate(106.80 1101.50) scale(1 1.075)" class="f">0</text>
<line x1="111.3" y1="948.75" x2="123.8" y2="948.75" stroke="#000" stroke-width="1.9"/>
<text x="0" y="0" font-size="24" text-anchor="end" transform="translate(106.80 956.95) scale(1 1.075)" class="f">100</text>
<line x1="111.3" y1="804.20" x2="123.8" y2="804.20" stroke="#000" stroke-width="1.9"/>
<text x="0" y="0" font-size="24" text-anchor="end" transform="translate(106.80 812.40) scale(1 1.075)" class="f">200</text>
<line x1="111.3" y1="659.65" x2="123.8" y2="659.65" stroke="#000" stroke-width="1.9"/>
<text x="0" y="0" font-size="24" text-anchor="end" transform="translate(106.80 667.85) scale(1 1.075)" class="f">300</text>
<line x1="123.1" y1="1093.3" x2="1077" y2="1093.3" stroke="#000" stroke-width="1.9"/>
<rect x="140.15" y="1048.50" width="35.7" height="44.80" fill="#fdbf80"/>
<rect x="192.10" y="1042.60" width="35.7" height="50.70" fill="#fdbf80"/>
<rect x="244.05" y="1049.00" width="35.7" height="44.30" fill="#fdbf80"/>
<rect x="296.00" y="972.90" width="35.7" height="120.40" fill="#fdbf80"/>
<rect x="347.95" y="925.50" width="35.7" height="167.80" fill="#fdbf80"/>
<rect x="399.90" y="1024.40" width="35.7" height="68.90" fill="#fdbf80"/>
<rect x="451.85" y="1049.40" width="35.7" height="43.90" fill="#fdbf80"/>
<rect x="503.80" y="995.00" width="35.7" height="98.30" fill="#fdbf80"/>
<rect x="555.75" y="1029.20" width="35.7" height="64.10" fill="#fdbf80"/>
<rect x="607.70" y="1046.40" width="35.7" height="46.90" fill="#fdbf80"/>
<rect x="659.65" y="1047.20" width="35.7" height="46.10" fill="#fdbf80"/>
<rect x="711.60" y="747.00" width="35.7" height="346.30" fill="#fdbf80"/>
<rect x="763.55" y="1035.00" width="35.7" height="58.30" fill="#fdbf80"/>
<rect x="815.50" y="1018.20" width="35.7" height="75.10" fill="#fdbf80"/>
<rect x="867.45" y="1025.80" width="35.7" height="67.50" fill="#fdbf80"/>
<rect x="919.40" y="1031.20" width="35.7" height="62.10" fill="#fdbf80"/>
<rect x="971.35" y="1031.50" width="35.7" height="61.80" fill="#fdbf80"/>
<rect x="1023.30" y="1001.10" width="35.7" height="92.20" fill="#fdbf80"/>
<line x1="158.00" y1="1048.50" x2="158.00" y2="1048.50" stroke="#000" stroke-width="1.5"/>
<line x1="153.80" y1="1048.50" x2="162.20" y2="1048.50" stroke="#000" stroke-width="1.5"/>
<line x1="153.80" y1="1048.50" x2="162.20" y2="1048.50" stroke="#000" stroke-width="1.5"/>
<circle cx="147.10" cy="1049.00" r="4.5" fill="none" stroke="#000" stroke-width="1.5"/>
<circle cx="158.00" cy="1049.00" r="4.5" fill="none" stroke="#000" stroke-width="1.5"/>
<circle cx="168.90" cy="1049.00" r="4.5" fill="none" stroke="#000" stroke-width="1.5"/>
<line x1="158.00" y1="1093.3" x2="158.00" y2="1106.3" stroke="#000" stroke-width="1.9"/>
<text x="165.50" y="1128.00" font-size="24.2" text-anchor="end" transform="rotate(-45 165.50 1128.00)" class="f">Control</text>
<line x1="209.95" y1="1030.75" x2="209.95" y2="1054.45" stroke="#000" stroke-width="1.5"/>
<line x1="205.75" y1="1030.75" x2="214.15" y2="1030.75" stroke="#000" stroke-width="1.5"/>
<line x1="205.75" y1="1054.45" x2="214.15" y2="1054.45" stroke="#000" stroke-width="1.5"/>
<circle cx="203.60" cy="1052.80" r="4.5" fill="none" stroke="#000" stroke-width="1.5"/>
<circle cx="210.00" cy="1030.00" r="4.5" fill="none" stroke="#000" stroke-width="1.5"/>
<circle cx="217.00" cy="1047.00" r="4.5" fill="none" stroke="#000" stroke-width="1.5"/>
<line x1="209.95" y1="1093.3" x2="209.95" y2="1106.3" stroke="#000" stroke-width="1.9"/>
<text x="217.45" y="1128.00" font-size="24.2" text-anchor="end" transform="rotate(-45 217.45 1128.00)" class="f">RPL27B</text>
<line x1="261.90" y1="1048.31" x2="261.90" y2="1049.69" stroke="#000" stroke-width="1.5"/>
<line x1="257.70" y1="1048.31" x2="266.10" y2="1048.31" stroke="#000" stroke-width="1.5"/>
<line x1="257.70" y1="1049.69" x2="266.10" y2="1049.69" stroke="#000" stroke-width="1.5"/>
<circle cx="250.50" cy="1049.00" r="4.5" fill="none" stroke="#000" stroke-width="1.5"/>
<circle cx="261.90" cy="1050.20" r="4.5" fill="none" stroke="#000" stroke-width="1.5"/>
<circle cx="272.80" cy="1049.00" r="4.5" fill="none" stroke="#000" stroke-width="1.5"/>
<line x1="261.90" y1="1093.3" x2="261.90" y2="1106.3" stroke="#000" stroke-width="1.9"/>
<text x="269.40" y="1128.00" font-size="24.2" text-anchor="end" transform="rotate(-45 269.40 1128.00)" class="f">RPS9A</text>
<line x1="313.85" y1="956.64" x2="313.85" y2="989.16" stroke="#000" stroke-width="1.5"/>
<line x1="309.65" y1="956.64" x2="318.05" y2="956.64" stroke="#000" stroke-width="1.5"/>
<line x1="309.65" y1="989.16" x2="318.05" y2="989.16" stroke="#000" stroke-width="1.5"/>
<circle cx="307.40" cy="988.10" r="4.5" fill="none" stroke="#000" stroke-width="1.5"/>
<circle cx="314.20" cy="955.90" r="4.5" fill="none" stroke="#000" stroke-width="1.5"/>
<circle cx="320.50" cy="976.00" r="4.5" fill="none" stroke="#000" stroke-width="1.5"/>
<line x1="313.85" y1="1093.3" x2="313.85" y2="1106.3" stroke="#000" stroke-width="1.9"/>
<text x="321.35" y="1128.00" font-size="24.2" text-anchor="end" transform="rotate(-45 321.35 1128.00)" class="f">TIF3</text>
<line x1="365.80" y1="883.90" x2="365.80" y2="967.10" stroke="#000" stroke-width="1.5"/>
<line x1="361.60" y1="883.90" x2="370.00" y2="883.90" stroke="#000" stroke-width="1.5"/>
<line x1="361.60" y1="967.10" x2="370.00" y2="967.10" stroke="#000" stroke-width="1.5"/>
<circle cx="365.70" cy="888.00" r="4.5" fill="none" stroke="#000" stroke-width="1.5"/>
<circle cx="365.70" cy="919.20" r="4.5" fill="none" stroke="#000" stroke-width="1.5"/>
<circle cx="365.70" cy="970.40" r="4.5" fill="none" stroke="#000" stroke-width="1.5"/>
<line x1="365.80" y1="1093.3" x2="365.80" y2="1106.3" stroke="#000" stroke-width="1.9"/>
<text x="373.30" y="1128.00" font-size="24.2" text-anchor="end" transform="rotate(-45 373.30 1128.00)" class="f">DBP3</text>
<line x1="417.75" y1="1009.68" x2="417.75" y2="1039.12" stroke="#000" stroke-width="1.5"/>
<line x1="413.55" y1="1009.68" x2="421.95" y2="1009.68" stroke="#000" stroke-width="1.5"/>
<line x1="413.55" y1="1039.12" x2="421.95" y2="1039.12" stroke="#000" stroke-width="1.5"/>
<circle cx="411.30" cy="1034.20" r="4.5" fill="none" stroke="#000" stroke-width="1.5"/>
<circle cx="418.10" cy="1007.90" r="4.5" fill="none" stroke="#000" stroke-width="1.5"/>
<circle cx="425.00" cy="1032.50" r="4.5" fill="none" stroke="#000" stroke-width="1.5"/>
<line x1="417.75" y1="1093.3" x2="417.75" y2="1106.3" stroke="#000" stroke-width="1.9"/>
<text x="425.25" y="1128.00" font-size="24.2" text-anchor="end" transform="rotate(-45 425.25 1128.00)" class="f">TSR2</text>
<line x1="469.70" y1="1046.69" x2="469.70" y2="1052.11" stroke="#000" stroke-width="1.5"/>
<line x1="465.50" y1="1046.69" x2="473.90" y2="1046.69" stroke="#000" stroke-width="1.5"/>
<line x1="465.50" y1="1052.11" x2="473.90" y2="1052.11" stroke="#000" stroke-width="1.5"/>
<circle cx="458.70" cy="1047.70" r="4.5" fill="none" stroke="#000" stroke-width="1.5"/>
<circle cx="469.60" cy="1052.70" r="4.5" fill="none" stroke="#000" stroke-width="1.5"/>
<circle cx="480.70" cy="1048.40" r="4.5" fill="none" stroke="#000" stroke-width="1.5"/>
<line x1="469.70" y1="1093.3" x2="469.70" y2="1106.3" stroke="#000" stroke-width="1.9"/>
<text x="477.20" y="1128.00" font-size="24.2" text-anchor="end" transform="rotate(-45 477.20 1128.00)" class="f">RPL3</text>
<line x1="521.65" y1="990.82" x2="521.65" y2="999.18" stroke="#000" stroke-width="1.5"/>
<line x1="517.45" y1="990.82" x2="525.85" y2="990.82" stroke="#000" stroke-width="1.5"/>
<line x1="517.45" y1="999.18" x2="525.85" y2="999.18" stroke="#000" stroke-width="1.5"/>
<circle cx="510.60" cy="991.20" r="4.5" fill="none" stroke="#000" stroke-width="1.5"/>
<circle cx="522.00" cy="999.50" r="4.5" fill="none" stroke="#000" stroke-width="1.5"/>
<circle cx="532.90" cy="996.20" r="4.5" fill="none" stroke="#000" stroke-width="1.5"/>
<line x1="521.65" y1="1093.3" x2="521.65" y2="1106.3" stroke="#000" stroke-width="1.9"/>
<text x="529.15" y="1128.00" font-size="24.2" text-anchor="end" transform="rotate(-45 529.15 1128.00)" class="f">ETT1</text>
<line x1="573.60" y1="1024.18" x2="573.60" y2="1034.22" stroke="#000" stroke-width="1.5"/>
<line x1="569.40" y1="1024.18" x2="577.80" y2="1024.18" stroke="#000" stroke-width="1.5"/>
<line x1="569.40" y1="1034.22" x2="577.80" y2="1034.22" stroke="#000" stroke-width="1.5"/>
<circle cx="562.80" cy="1024.10" r="4.5" fill="none" stroke="#000" stroke-width="1.5"/>
<circle cx="573.70" cy="1033.80" r="4.5" fill="none" stroke="#000" stroke-width="1.5"/>
<circle cx="584.90" cy="1031.20" r="4.5" fill="none" stroke="#000" stroke-width="1.5"/>
<line x1="573.60" y1="1093.3" x2="573.60" y2="1106.3" stroke="#000" stroke-width="1.9"/>
<text x="581.10" y="1128.00" font-size="24.2" text-anchor="end" transform="rotate(-45 581.10 1128.00)" class="f">RPL16A</text>
<line x1="625.55" y1="1041.32" x2="625.55" y2="1051.48" stroke="#000" stroke-width="1.5"/>
<line x1="621.35" y1="1041.32" x2="629.75" y2="1041.32" stroke="#000" stroke-width="1.5"/>
<line x1="621.35" y1="1051.48" x2="629.75" y2="1051.48" stroke="#000" stroke-width="1.5"/>
<circle cx="614.30" cy="1041.40" r="4.5" fill="none" stroke="#000" stroke-width="1.5"/>
<circle cx="625.70" cy="1050.20" r="4.5" fill="none" stroke="#000" stroke-width="1.5"/>
<circle cx="636.80" cy="1050.20" r="4.5" fill="none" stroke="#000" stroke-width="1.5"/>
<line x1="625.55" y1="1093.3" x2="625.55" y2="1106.3" stroke="#000" stroke-width="1.9"/>
<text x="633.05" y="1128.00" font-size="24.2" text-anchor="end" transform="rotate(-45 633.05 1128.00)" class="f">RPL37B</text>
<line x1="677.50" y1="1041.25" x2="677.50" y2="1053.15" stroke="#000" stroke-width="1.5"/>
<line x1="673.30" y1="1041.25" x2="681.70" y2="1041.25" stroke="#000" stroke-width="1.5"/>
<line x1="673.30" y1="1053.15" x2="681.70" y2="1053.15" stroke="#000" stroke-width="1.5"/>
<circle cx="666.70" cy="1041.40" r="4.5" fill="none" stroke="#000" stroke-width="1.5"/>
<circle cx="677.60" cy="1053.30" r="4.5" fill="none" stroke="#000" stroke-width="1.5"/>
<circle cx="688.80" cy="1047.70" r="4.5" fill="none" stroke="#000" stroke-width="1.5"/>
<line x1="677.50" y1="1093.3" x2="677.50" y2="1106.3" stroke="#000" stroke-width="1.9"/>
<text x="685.00" y="1128.00" font-size="24.2" text-anchor="end" transform="rotate(-45 685.00 1128.00)" class="f">ARC1</text>
<line x1="729.45" y1="729.04" x2="729.45" y2="764.96" stroke="#000" stroke-width="1.5"/>
<line x1="725.25" y1="729.04" x2="733.65" y2="729.04" stroke="#000" stroke-width="1.5"/>
<line x1="725.25" y1="764.96" x2="733.65" y2="764.96" stroke="#000" stroke-width="1.5"/>
<circle cx="729.70" cy="726.60" r="4.5" fill="none" stroke="#000" stroke-width="1.5"/>
<circle cx="722.90" cy="758.10" r="4.5" fill="none" stroke="#000" stroke-width="1.5"/>
<circle cx="736.30" cy="757.30" r="4.5" fill="none" stroke="#000" stroke-width="1.5"/>
<line x1="729.45" y1="1093.3" x2="729.45" y2="1106.3" stroke="#000" stroke-width="1.9"/>
<text x="736.95" y="1128.00" font-size="24.2" text-anchor="end" transform="rotate(-45 736.95 1128.00)" class="f">RPL8B</text>
<line x1="781.40" y1="1032.06" x2="781.40" y2="1037.94" stroke="#000" stroke-width="1.5"/>
<line x1="777.20" y1="1032.06" x2="785.60" y2="1032.06" stroke="#000" stroke-width="1.5"/>
<line x1="777.20" y1="1037.94" x2="785.60" y2="1037.94" stroke="#000" stroke-width="1.5"/>
<circle cx="770.10" cy="1031.70" r="4.5" fill="none" stroke="#000" stroke-width="1.5"/>
<circle cx="781.30" cy="1036.80" r="4.5" fill="none" stroke="#000" stroke-width="1.5"/>
<circle cx="792.40" cy="1036.80" r="4.5" fill="none" stroke="#000" stroke-width="1.5"/>
<line x1="781.40" y1="1093.3" x2="781.40" y2="1106.3" stroke="#000" stroke-width="1.9"/>
<text x="788.90" y="1128.00" font-size="24.2" text-anchor="end" transform="rotate(-45 788.90 1128.00)" class="f">RPL7A</text>
<line x1="833.35" y1="1013.96" x2="833.35" y2="1022.44" stroke="#000" stroke-width="1.5"/>
<line x1="829.15" y1="1013.96" x2="837.55" y2="1013.96" stroke="#000" stroke-width="1.5"/>
<line x1="829.15" y1="1022.44" x2="837.55" y2="1022.44" stroke="#000" stroke-width="1.5"/>
<circle cx="822.30" cy="1015.50" r="4.5" fill="none" stroke="#000" stroke-width="1.5"/>
<circle cx="833.40" cy="1023.40" r="4.5" fill="none" stroke="#000" stroke-width="1.5"/>
<circle cx="844.80" cy="1016.80" r="4.5" fill="none" stroke="#000" stroke-width="1.5"/>
<line x1="833.35" y1="1093.3" x2="833.35" y2="1106.3" stroke="#000" stroke-width="1.9"/>
<text x="840.85" y="1128.00" font-size="24.2" text-anchor="end" transform="rotate(-45 840.85 1128.00)" class="f">RRP1</text>
<line x1="885.30" y1="1018.20" x2="885.30" y2="1033.40" stroke="#000" stroke-width="1.5"/>
<line x1="881.10" y1="1018.20" x2="889.50" y2="1018.20" stroke="#000" stroke-width="1.5"/>
<line x1="881.10" y1="1033.40" x2="889.50" y2="1033.40" stroke="#000" stroke-width="1.5"/>
<circle cx="878.70" cy="1035.00" r="4.5" fill="none" stroke="#000" stroke-width="1.5"/>
<circle cx="885.50" cy="1020.60" r="4.5" fill="none" stroke="#000" stroke-width="1.5"/>
<circle cx="892.30" cy="1023.60" r="4.5" fill="none" stroke="#000" stroke-width="1.5"/>
<line x1="885.30" y1="1093.3" x2="885.30" y2="1106.3" stroke="#000" stroke-width="1.9"/>
<text x="892.80" y="1128.00" font-size="24.2" text-anchor="end" transform="rotate(-45 892.80 1128.00)" class="f">RPL13B</text>
<line x1="937.25" y1="1029.08" x2="937.25" y2="1033.32" stroke="#000" stroke-width="1.5"/>
<line x1="933.05" y1="1029.08" x2="941.45" y2="1029.08" stroke="#000" stroke-width="1.5"/>
<line x1="933.05" y1="1033.32" x2="941.45" y2="1033.32" stroke="#000" stroke-width="1.5"/>
<circle cx="926.30" cy="1029.10" r="4.5" fill="none" stroke="#000" stroke-width="1.5"/>
<circle cx="937.70" cy="1033.10" r="4.5" fill="none" stroke="#000" stroke-width="1.5"/>
<circle cx="948.50" cy="1032.30" r="4.5" fill="none" stroke="#000" stroke-width="1.5"/>
<line x1="937.25" y1="1093.3" x2="937.25" y2="1106.3" stroke="#000" stroke-width="1.9"/>
<text x="944.75" y="1128.00" font-size="24.2" text-anchor="end" transform="rotate(-45 944.75 1128.00)" class="f">RPC19</text>
<line x1="989.20" y1="1028.59" x2="989.20" y2="1034.41" stroke="#000" stroke-width="1.5"/>
<line x1="985.00" y1="1028.59" x2="993.40" y2="1028.59" stroke="#000" stroke-width="1.5"/>
<line x1="985.00" y1="1034.41" x2="993.40" y2="1034.41" stroke="#000" stroke-width="1.5"/>
<circle cx="977.80" cy="1029.60" r="4.5" fill="none" stroke="#000" stroke-width="1.5"/>
<circle cx="989.20" cy="1035.00" r="4.5" fill="none" stroke="#000" stroke-width="1.5"/>
<circle cx="1000.40" cy="1030.40" r="4.5" fill="none" stroke="#000" stroke-width="1.5"/>
<line x1="989.20" y1="1093.3" x2="989.20" y2="1106.3" stroke="#000" stroke-width="1.9"/>
<text x="996.70" y="1128.00" font-size="24.2" text-anchor="end" transform="rotate(-45 996.70 1128.00)" class="f">ZUO1</text>
<line x1="1041.15" y1="995.21" x2="1041.15" y2="1006.99" stroke="#000" stroke-width="1.5"/>
<line x1="1036.95" y1="995.21" x2="1045.35" y2="995.21" stroke="#000" stroke-width="1.5"/>
<line x1="1036.95" y1="1006.99" x2="1045.35" y2="1006.99" stroke="#000" stroke-width="1.5"/>
<circle cx="1030.20" cy="995.70" r="4.5" fill="none" stroke="#000" stroke-width="1.5"/>
<circle cx="1041.10" cy="1007.30" r="4.5" fill="none" stroke="#000" stroke-width="1.5"/>
<circle cx="1052.50" cy="999.70" r="4.5" fill="none" stroke="#000" stroke-width="1.5"/>
<line x1="1041.15" y1="1093.3" x2="1041.15" y2="1106.3" stroke="#000" stroke-width="1.9"/>
<text x="1048.65" y="1128.00" font-size="24.2" text-anchor="end" transform="rotate(-45 1048.65 1128.00)" class="f">SUI3</text>
<text x="49.5" y="881" font-size="24" text-anchor="middle" transform="rotate(-90 49.5 881)" class="f">BGL1 specific activity (U/ g DCW)</text>
</g>
</svg>
</body></html>
